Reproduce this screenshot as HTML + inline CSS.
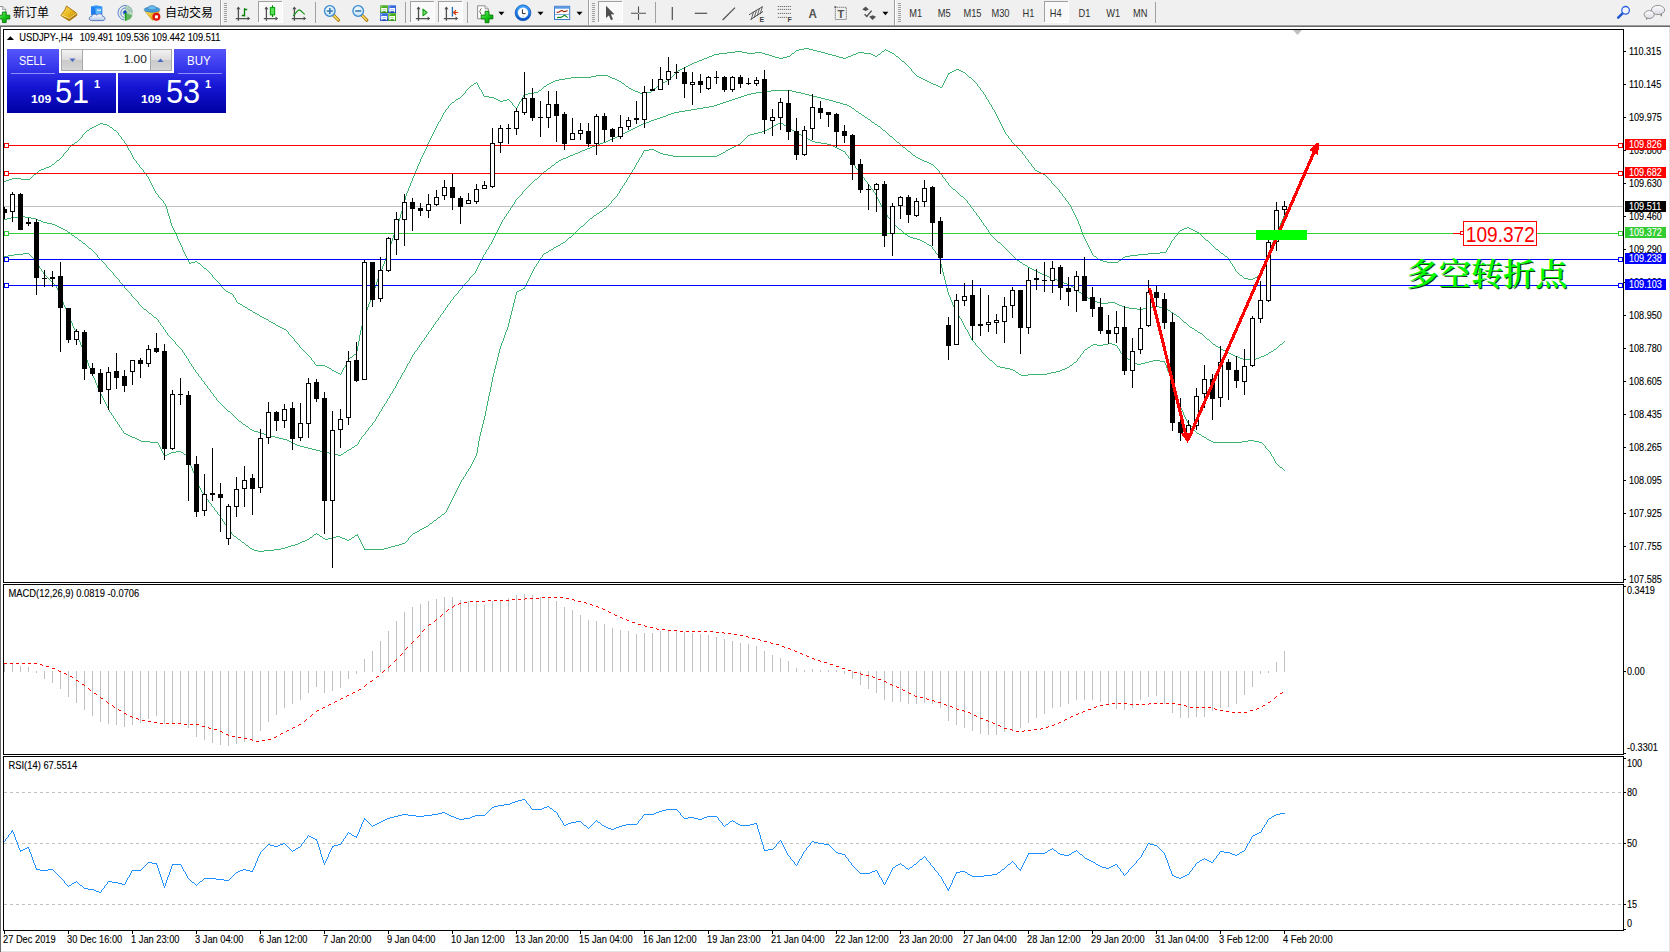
<!DOCTYPE html>
<html><head><meta charset="utf-8"><title>USDJPY H4</title>
<style>
html,body{margin:0;padding:0;background:#fff;overflow:hidden}
body{width:1670px;height:952px;position:relative;font-family:"Liberation Sans", "Noto Sans CJK SC", sans-serif;font-size:9.3px;color:#000}
.abs{position:absolute}
#tb{left:0;top:0;width:1670px;height:25px;background:#f0f0f0}
#l1{left:0;top:25px;width:1670px;height:1px;background:#a0a0a0}
#l2{left:0;top:26px;width:1670px;height:1px;background:#696969}
#l3{left:0;top:26px;width:1px;height:926px;background:#696969}
#rb{left:1669px;top:27px;width:1px;height:925px;background:#e3e3e3}
#bb{left:1px;top:951px;width:1669px;height:1px;background:#e3e3e3}
svg{position:absolute;left:0;top:0}

#pn{position:absolute;left:0;top:0}
.pb{position:absolute;background:linear-gradient(#5656fb 0%,#3c3cef 25%,#1414d2 60%,#0000a4 100%);background-size:100% 64px;background-repeat:no-repeat}
.pt{position:absolute;color:#fff;white-space:nowrap;line-height:1;transform-origin:0 0}
#lot{position:absolute;left:61px;top:49px;width:109px;height:20px;border:1px solid #a8a8a8;background:#fff}
.sp{position:absolute;top:0;width:20px;height:20px;background:linear-gradient(#f2f2f2,#dcdcdc 50%,#cacaca 51%,#d6d6d6)}

</style></head><body>
<div class="abs" id="tb"></div><div class="abs" id="l1"></div><div class="abs" id="l2"></div><div class="abs" id="l3"></div><div class="abs" id="rb"></div><div class="abs" id="bb"></div>
<svg width="1670" height="952" viewBox="0 0 1670 952">
<defs><clipPath id="cm"><rect x="4" y="30" width="1619" height="552"/></clipPath><clipPath id="c2"><rect x="4" y="585" width="1619" height="169"/></clipPath><clipPath id="c3"><rect x="4" y="757" width="1619" height="173"/></clipPath></defs>
<g clip-path="url(#cm)">
<rect x="4" y="206" width="1619" height="1" fill="#c0c0c0"/>
<path d="M63 154h1v2h-1zM68 148h1v2h-1zM82 135h1v2h-1zM118 133h1v2h-1zM121 137h1v2h-1zM124 141h1v2h-1zM126 144h1v2h-1zM127 146h1v2h-1zM128 148h1v2h-1zM130 151h1v2h-1zM131 153h1v2h-1zM132 155h1v2h-1zM133 157h1v2h-1zM136 161h1v2h-1zM139 165h1v2h-1zM143 170h1v2h-1zM146 174h1v2h-1zM148 177h1v2h-1zM149 179h1v2h-1zM150 181h1v2h-1zM151 183h1v2h-1zM152 185h1v2h-1zM153 187h1v2h-1zM154 189h1v2h-1zM155 191h1v2h-1zM158 195h1v2h-1zM163 201h1v2h-1zM165 204h1v2h-1zM166 206h1v3h-1zM167 209h1v4h-1zM168 213h1v3h-1zM169 216h1v3h-1zM170 219h1v4h-1zM171 223h1v3h-1zM172 226h1v2h-1zM173 228h1v2h-1zM174 230h1v2h-1zM175 232h1v2h-1zM176 234h1v2h-1zM177 236h1v3h-1zM178 239h1v2h-1zM179 241h1v2h-1zM180 243h1v2h-1zM181 245h1v2h-1zM182 247h1v3h-1zM183 250h1v2h-1zM184 252h1v2h-1zM185 254h1v2h-1zM186 256h1v2h-1zM187 258h1v2h-1zM188 260h1v2h-1zM189 262h1v2h-1zM212 275h1v2h-1zM221 285h1v2h-1zM233 295h1v2h-1zM235 298h1v2h-1zM236 300h1v2h-1zM288 332h1v2h-1zM294 339h1v2h-1zM299 345h1v2h-1zM311 358h1v2h-1zM314 362h1v2h-1zM341 372h1v2h-1zM342 370h1v2h-1zM343 368h1v2h-1zM345 365h1v2h-1zM346 363h1v2h-1zM347 361h1v2h-1zM348 359h1v2h-1zM356 351h1v3h-1zM357 346h1v5h-1zM358 341h1v5h-1zM359 335h1v6h-1zM360 330h1v5h-1zM361 326h1v4h-1zM362 323h1v3h-1zM363 320h1v3h-1zM364 316h1v4h-1zM365 313h1v3h-1zM366 310h1v3h-1zM367 307h1v3h-1zM368 304h1v3h-1zM369 302h1v2h-1zM370 299h1v3h-1zM371 296h1v3h-1zM372 293h1v3h-1zM373 290h1v3h-1zM374 288h1v2h-1zM375 285h1v3h-1zM376 282h1v3h-1zM377 279h1v3h-1zM378 277h1v2h-1zM379 274h1v3h-1zM380 272h1v2h-1zM381 269h1v3h-1zM382 266h1v3h-1zM383 264h1v2h-1zM384 261h1v3h-1zM385 258h1v3h-1zM386 255h1v3h-1zM387 253h1v2h-1zM388 250h1v3h-1zM389 247h1v3h-1zM390 244h1v3h-1zM391 241h1v3h-1zM392 238h1v3h-1zM393 235h1v3h-1zM394 233h1v2h-1zM395 230h1v3h-1zM396 227h1v3h-1zM397 224h1v3h-1zM398 221h1v3h-1zM399 218h1v3h-1zM400 214h1v4h-1zM401 211h1v3h-1zM402 207h1v4h-1zM403 203h1v4h-1zM404 200h1v3h-1zM405 196h1v4h-1zM406 193h1v3h-1zM407 191h1v2h-1zM408 188h1v3h-1zM409 186h1v2h-1zM410 183h1v3h-1zM411 181h1v2h-1zM412 178h1v3h-1zM413 176h1v2h-1zM414 173h1v3h-1zM415 171h1v2h-1zM416 169h1v2h-1zM417 166h1v3h-1zM418 164h1v2h-1zM419 162h1v2h-1zM420 159h1v3h-1zM421 157h1v2h-1zM422 155h1v2h-1zM423 153h1v2h-1zM424 151h1v2h-1zM425 149h1v2h-1zM426 147h1v2h-1zM427 144h1v3h-1zM428 142h1v2h-1zM429 140h1v2h-1zM430 138h1v2h-1zM431 136h1v2h-1zM432 134h1v2h-1zM433 132h1v2h-1zM434 130h1v2h-1zM435 128h1v2h-1zM436 126h1v2h-1zM437 124h1v2h-1zM438 122h1v2h-1zM440 119h1v2h-1zM441 117h1v2h-1zM442 115h1v2h-1zM443 113h1v2h-1zM445 110h1v2h-1zM448 106h1v2h-1zM465 91h1v2h-1zM477 83h1v2h-1zM478 85h1v2h-1zM479 87h1v2h-1zM481 90h1v2h-1zM482 92h1v2h-1zM483 94h1v2h-1zM512 103h1v2h-1zM517 106h1v2h-1zM518 104h1v2h-1zM519 102h1v2h-1zM521 99h1v2h-1zM522 97h1v2h-1zM523 95h1v2h-1zM911 69h1v2h-1zM942 85h1v2h-1zM943 83h1v2h-1zM944 81h1v2h-1zM945 79h1v2h-1zM946 77h1v2h-1zM947 75h1v2h-1zM948 73h1v2h-1zM977 84h1v2h-1zM980 88h1v2h-1zM983 92h1v2h-1zM985 95h1v2h-1zM986 97h1v2h-1zM988 100h1v2h-1zM989 102h1v2h-1zM991 105h1v2h-1zM992 107h1v2h-1zM994 110h1v2h-1zM995 112h1v2h-1zM996 114h1v2h-1zM997 116h1v2h-1zM998 118h1v2h-1zM999 120h1v2h-1zM1000 122h1v2h-1zM1001 124h1v2h-1zM1002 126h1v2h-1zM1003 128h1v2h-1zM1004 130h1v2h-1zM1005 132h1v2h-1zM1008 136h1v2h-1zM1011 140h1v2h-1zM1022 152h1v2h-1zM1025 156h1v2h-1zM1028 160h1v2h-1zM1031 164h1v2h-1zM1034 168h1v2h-1zM1051 181h1v2h-1zM1059 190h1v2h-1zM1062 194h1v2h-1zM1065 198h1v2h-1zM1068 202h1v2h-1zM1070 205h1v2h-1zM1071 207h1v2h-1zM1072 209h1v2h-1zM1073 211h1v2h-1zM1074 213h1v2h-1zM1075 215h1v2h-1zM1076 217h1v2h-1zM1077 219h1v2h-1zM1078 221h1v3h-1zM1079 224h1v2h-1zM1080 226h1v3h-1zM1081 229h1v3h-1zM1082 232h1v3h-1zM1083 235h1v2h-1zM1084 237h1v2h-1zM1085 239h1v2h-1zM1086 241h1v2h-1zM1087 243h1v2h-1zM1088 245h1v2h-1zM1089 247h1v2h-1zM1090 249h1v2h-1zM1091 251h1v2h-1zM1092 253h1v2h-1zM1166 250h1v2h-1zM1167 248h1v2h-1zM1169 245h1v2h-1zM1170 243h1v2h-1zM1171 241h1v2h-1zM1174 237h1v2h-1zM1178 232h1v2h-1zM1229 259h1v2h-1zM1230 261h1v2h-1zM1232 264h1v2h-1zM1234 267h1v2h-1zM1235 269h1v2h-1zM1258 275h1v2h-1zM1259 273h1v2h-1zM1260 271h1v2h-1zM1261 268h1v3h-1zM1262 266h1v2h-1zM1263 264h1v2h-1zM1264 261h1v3h-1zM1265 259h1v2h-1zM1266 257h1v2h-1zM1267 254h1v3h-1zM1268 252h1v2h-1zM1269 249h1v3h-1zM1270 247h1v2h-1zM1271 245h1v2h-1zM1272 242h1v3h-1zM1273 240h1v2h-1zM1274 238h1v2h-1zM1275 235h1v3h-1zM1276 233h1v2h-1zM1277 231h1v2h-1zM1278 228h1v3h-1zM1279 226h1v2h-1zM1280 223h1v3h-1zM1281 221h1v2h-1zM1282 219h1v2h-1zM1283 216h1v3h-1zM1284 214h1v2h-1zM1285 212h1v2h-1zM804 48h5v1h-5zM799 49h5v1h-5zM809 49h4v1h-4zM885 49h1v1h-1zM796 50h3v1h-3zM813 50h4v1h-4zM884 50h1v1h-1zM886 50h2v1h-2zM735 51h7v1h-7zM795 51h1v1h-1zM817 51h4v1h-4zM882 51h2v1h-2zM888 51h2v1h-2zM727 52h8v1h-8zM742 52h5v1h-5zM755 52h7v1h-7zM794 52h1v1h-1zM821 52h4v1h-4zM858 52h6v1h-6zM881 52h1v1h-1zM890 52h2v1h-2zM719 53h8v1h-8zM747 53h8v1h-8zM762 53h3v1h-3zM792 53h2v1h-2zM825 53h3v1h-3zM856 53h2v1h-2zM864 53h7v1h-7zM880 53h1v1h-1zM892 53h2v1h-2zM714 54h5v1h-5zM765 54h4v1h-4zM791 54h1v1h-1zM828 54h4v1h-4zM853 54h3v1h-3zM871 54h2v1h-2zM878 54h2v1h-2zM894 54h1v1h-1zM712 55h2v1h-2zM769 55h3v1h-3zM790 55h1v1h-1zM832 55h4v1h-4zM851 55h2v1h-2zM873 55h2v1h-2zM877 55h1v1h-1zM895 55h1v1h-1zM709 56h3v1h-3zM772 56h3v1h-3zM787 56h3v1h-3zM836 56h3v1h-3zM848 56h3v1h-3zM875 56h2v1h-2zM896 56h2v1h-2zM707 57h2v1h-2zM775 57h4v1h-4zM783 57h4v1h-4zM839 57h4v1h-4zM846 57h2v1h-2zM898 57h1v1h-1zM704 58h3v1h-3zM779 58h4v1h-4zM843 58h3v1h-3zM899 58h1v1h-1zM702 59h2v1h-2zM900 59h1v1h-1zM699 60h3v1h-3zM901 60h1v1h-1zM697 61h2v1h-2zM902 61h2v1h-2zM694 62h3v1h-3zM904 62h1v1h-1zM692 63h2v1h-2zM905 63h1v1h-1zM690 64h2v1h-2zM906 64h1v1h-1zM688 65h2v1h-2zM907 65h1v1h-1zM686 66h2v1h-2zM908 66h1v1h-1zM684 67h2v1h-2zM909 67h1v1h-1zM682 68h2v1h-2zM910 68h1v1h-1zM680 69h2v1h-2zM956 69h3v1h-3zM678 70h2v1h-2zM954 70h2v1h-2zM959 70h2v1h-2zM677 71h1v1h-1zM912 71h1v1h-1zM952 71h2v1h-2zM961 71h2v1h-2zM676 72h1v1h-1zM913 72h1v1h-1zM950 72h2v1h-2zM963 72h2v1h-2zM675 73h1v1h-1zM914 73h1v1h-1zM949 73h1v1h-1zM965 73h1v1h-1zM674 74h1v1h-1zM915 74h1v1h-1zM966 74h1v1h-1zM596 75h12v1h-12zM673 75h1v1h-1zM916 75h1v1h-1zM967 75h1v1h-1zM591 76h5v1h-5zM608 76h2v1h-2zM672 76h1v1h-1zM917 76h2v1h-2zM968 76h1v1h-1zM571 77h20v1h-20zM610 77h2v1h-2zM671 77h1v1h-1zM919 77h2v1h-2zM969 77h2v1h-2zM565 78h6v1h-6zM612 78h3v1h-3zM670 78h1v1h-1zM921 78h2v1h-2zM971 78h1v1h-1zM559 79h6v1h-6zM615 79h2v1h-2zM669 79h1v1h-1zM923 79h2v1h-2zM972 79h1v1h-1zM555 80h4v1h-4zM617 80h2v1h-2zM667 80h2v1h-2zM925 80h2v1h-2zM973 80h1v1h-1zM553 81h2v1h-2zM619 81h2v1h-2zM665 81h2v1h-2zM927 81h2v1h-2zM974 81h1v1h-1zM476 82h1v1h-1zM551 82h2v1h-2zM621 82h1v1h-1zM663 82h2v1h-2zM929 82h2v1h-2zM975 82h1v1h-1zM474 83h2v1h-2zM549 83h2v1h-2zM622 83h2v1h-2zM661 83h2v1h-2zM931 83h2v1h-2zM976 83h1v1h-1zM473 84h1v1h-1zM547 84h2v1h-2zM624 84h1v1h-1zM659 84h2v1h-2zM933 84h3v1h-3zM471 85h2v1h-2zM546 85h1v1h-1zM625 85h1v1h-1zM658 85h1v1h-1zM936 85h2v1h-2zM470 86h1v1h-1zM544 86h2v1h-2zM626 86h2v1h-2zM657 86h1v1h-1zM938 86h2v1h-2zM978 86h1v1h-1zM469 87h1v1h-1zM543 87h1v1h-1zM628 87h1v1h-1zM656 87h1v1h-1zM940 87h2v1h-2zM979 87h1v1h-1zM468 88h1v1h-1zM542 88h1v1h-1zM629 88h2v1h-2zM654 88h2v1h-2zM467 89h1v1h-1zM480 89h1v1h-1zM541 89h1v1h-1zM631 89h2v1h-2zM653 89h1v1h-1zM466 90h1v1h-1zM539 90h2v1h-2zM633 90h2v1h-2zM652 90h1v1h-1zM981 90h1v1h-1zM538 91h1v1h-1zM635 91h3v1h-3zM651 91h1v1h-1zM982 91h1v1h-1zM534 92h4v1h-4zM638 92h2v1h-2zM646 92h5v1h-5zM464 93h1v1h-1zM528 93h6v1h-6zM640 93h6v1h-6zM463 94h1v1h-1zM524 94h4v1h-4zM984 94h1v1h-1zM462 95h1v1h-1zM461 96h1v1h-1zM484 96h5v1h-5zM460 97h1v1h-1zM489 97h5v1h-5zM458 98h2v1h-2zM494 98h2v1h-2zM456 99h2v1h-2zM496 99h2v1h-2zM507 99h2v1h-2zM987 99h1v1h-1zM455 100h1v1h-1zM498 100h2v1h-2zM503 100h4v1h-4zM509 100h1v1h-1zM454 101h1v1h-1zM500 101h3v1h-3zM510 101h1v1h-1zM520 101h1v1h-1zM452 102h2v1h-2zM511 102h1v1h-1zM451 103h1v1h-1zM450 104h1v1h-1zM990 104h1v1h-1zM449 105h1v1h-1zM513 105h1v1h-1zM514 106h1v1h-1zM515 107h1v1h-1zM447 108h1v1h-1zM516 108h1v1h-1zM446 109h1v1h-1zM993 109h1v1h-1zM444 112h1v1h-1zM439 121h1v1h-1zM100 123h3v1h-3zM98 124h2v1h-2zM103 124h4v1h-4zM96 125h2v1h-2zM107 125h2v1h-2zM94 126h2v1h-2zM109 126h1v1h-1zM92 127h2v1h-2zM110 127h2v1h-2zM90 128h2v1h-2zM112 128h1v1h-1zM89 129h1v1h-1zM113 129h1v1h-1zM87 130h2v1h-2zM114 130h2v1h-2zM86 131h1v1h-1zM116 131h1v1h-1zM85 132h1v1h-1zM117 132h1v1h-1zM84 133h1v1h-1zM83 134h1v1h-1zM1006 134h1v1h-1zM119 135h1v1h-1zM1007 135h1v1h-1zM120 136h1v1h-1zM81 137h1v1h-1zM80 138h1v1h-1zM1009 138h1v1h-1zM79 139h1v1h-1zM122 139h1v1h-1zM1010 139h1v1h-1zM78 140h1v1h-1zM123 140h1v1h-1zM77 141h1v1h-1zM75 142h2v1h-2zM1012 142h1v1h-1zM74 143h1v1h-1zM125 143h1v1h-1zM1013 143h1v1h-1zM72 144h2v1h-2zM1014 144h1v1h-1zM71 145h1v1h-1zM1015 145h1v1h-1zM70 146h1v1h-1zM1016 146h1v1h-1zM69 147h1v1h-1zM1017 147h1v1h-1zM1018 148h1v1h-1zM1019 149h1v1h-1zM67 150h1v1h-1zM129 150h1v1h-1zM1020 150h1v1h-1zM66 151h1v1h-1zM1021 151h1v1h-1zM65 152h1v1h-1zM64 153h1v1h-1zM1023 154h1v1h-1zM1024 155h1v1h-1zM62 156h1v1h-1zM61 157h1v1h-1zM60 158h1v1h-1zM1026 158h1v1h-1zM59 159h1v1h-1zM134 159h1v1h-1zM1027 159h1v1h-1zM57 160h2v1h-2zM135 160h1v1h-1zM56 161h1v1h-1zM55 162h1v1h-1zM1029 162h1v1h-1zM54 163h1v1h-1zM137 163h1v1h-1zM1030 163h1v1h-1zM52 164h2v1h-2zM138 164h1v1h-1zM51 165h1v1h-1zM49 166h2v1h-2zM1032 166h1v1h-1zM46 167h3v1h-3zM140 167h1v1h-1zM1033 167h1v1h-1zM44 168h2v1h-2zM141 168h1v1h-1zM41 169h3v1h-3zM142 169h1v1h-1zM39 170h2v1h-2zM1035 170h2v1h-2zM38 171h1v1h-1zM1037 171h2v1h-2zM37 172h1v1h-1zM144 172h1v1h-1zM1039 172h2v1h-2zM36 173h1v1h-1zM145 173h1v1h-1zM1041 173h2v1h-2zM34 174h2v1h-2zM1043 174h2v1h-2zM33 175h1v1h-1zM1045 175h1v1h-1zM32 176h1v1h-1zM147 176h1v1h-1zM1046 176h1v1h-1zM31 177h1v1h-1zM1047 177h1v1h-1zM12 178h9v1h-9zM30 178h1v1h-1zM1048 178h1v1h-1zM9 179h3v1h-3zM21 179h9v1h-9zM1049 179h1v1h-1zM6 180h3v1h-3zM1050 180h1v1h-1zM4 181h2v1h-2zM1052 183h1v1h-1zM1053 184h1v1h-1zM1054 185h1v1h-1zM1055 186h1v1h-1zM1056 187h1v1h-1zM1057 188h1v1h-1zM1058 189h1v1h-1zM1060 192h1v1h-1zM156 193h1v1h-1zM1061 193h1v1h-1zM157 194h1v1h-1zM1063 196h1v1h-1zM159 197h1v1h-1zM1064 197h1v1h-1zM160 198h1v1h-1zM161 199h1v1h-1zM162 200h1v1h-1zM1066 200h1v1h-1zM1067 201h1v1h-1zM164 203h1v1h-1zM1069 204h1v1h-1zM1187 227h2v1h-2zM1184 228h3v1h-3zM1189 228h2v1h-2zM1182 229h2v1h-2zM1191 229h2v1h-2zM1180 230h2v1h-2zM1193 230h2v1h-2zM1179 231h1v1h-1zM1195 231h2v1h-2zM1197 232h2v1h-2zM1199 233h1v1h-1zM1177 234h1v1h-1zM1200 234h1v1h-1zM1176 235h1v1h-1zM1201 235h1v1h-1zM1175 236h1v1h-1zM1202 236h1v1h-1zM1203 237h1v1h-1zM1204 238h1v1h-1zM1173 239h1v1h-1zM1205 239h1v1h-1zM1172 240h1v1h-1zM1206 240h2v1h-2zM1208 241h1v1h-1zM1209 242h1v1h-1zM1210 243h1v1h-1zM1211 244h1v1h-1zM1212 245h1v1h-1zM1213 246h1v1h-1zM1168 247h1v1h-1zM1214 247h1v1h-1zM1215 248h1v1h-1zM1216 249h2v1h-2zM1218 250h1v1h-1zM1219 251h1v1h-1zM1160 252h6v1h-6zM1220 252h1v1h-1zM1148 253h12v1h-12zM1221 253h2v1h-2zM1138 254h10v1h-10zM1223 254h1v1h-1zM1093 255h1v1h-1zM1130 255h8v1h-8zM1224 255h1v1h-1zM1094 256h2v1h-2zM1125 256h5v1h-5zM1225 256h2v1h-2zM1096 257h1v1h-1zM1123 257h2v1h-2zM1227 257h1v1h-1zM1097 258h1v1h-1zM1122 258h1v1h-1zM1228 258h1v1h-1zM1098 259h2v1h-2zM1121 259h1v1h-1zM1100 260h3v1h-3zM1119 260h2v1h-2zM195 261h2v1h-2zM1103 261h4v1h-4zM1118 261h1v1h-1zM191 262h4v1h-4zM197 262h1v1h-1zM1107 262h11v1h-11zM190 263h1v1h-1zM198 263h2v1h-2zM1231 263h1v1h-1zM200 264h1v1h-1zM201 265h1v1h-1zM202 266h1v1h-1zM1233 266h1v1h-1zM203 267h1v1h-1zM204 268h2v1h-2zM206 269h1v1h-1zM207 270h1v1h-1zM208 271h1v1h-1zM1236 271h1v1h-1zM209 272h1v1h-1zM1237 272h1v1h-1zM210 273h1v1h-1zM1238 273h1v1h-1zM211 274h1v1h-1zM1239 274h1v1h-1zM1240 275h2v1h-2zM1242 276h1v1h-1zM1257 276h1v1h-1zM213 277h1v1h-1zM1243 277h1v1h-1zM1255 277h2v1h-2zM214 278h1v1h-1zM1244 278h4v1h-4zM1253 278h2v1h-2zM215 279h1v1h-1zM1248 279h5v1h-5zM216 280h1v1h-1zM217 281h1v1h-1zM218 282h1v1h-1zM219 283h1v1h-1zM220 284h1v1h-1zM222 287h1v1h-1zM223 288h1v1h-1zM224 289h1v1h-1zM225 290h1v1h-1zM226 291h2v1h-2zM228 292h2v1h-2zM230 293h2v1h-2zM232 294h1v1h-1zM234 297h1v1h-1zM237 302h1v1h-1zM238 303h2v1h-2zM240 304h2v1h-2zM242 305h1v1h-1zM243 306h2v1h-2zM245 307h2v1h-2zM247 308h1v1h-1zM248 309h2v1h-2zM250 310h2v1h-2zM252 311h1v1h-1zM253 312h2v1h-2zM255 313h2v1h-2zM257 314h2v1h-2zM259 315h1v1h-1zM260 316h2v1h-2zM262 317h2v1h-2zM264 318h2v1h-2zM266 319h2v1h-2zM268 320h1v1h-1zM269 321h2v1h-2zM271 322h2v1h-2zM273 323h2v1h-2zM275 324h1v1h-1zM276 325h2v1h-2zM278 326h2v1h-2zM280 327h2v1h-2zM282 328h2v1h-2zM284 329h2v1h-2zM286 330h1v1h-1zM287 331h1v1h-1zM289 334h1v1h-1zM290 335h1v1h-1zM291 336h1v1h-1zM292 337h1v1h-1zM293 338h1v1h-1zM295 341h1v1h-1zM296 342h1v1h-1zM297 343h1v1h-1zM298 344h1v1h-1zM300 347h1v1h-1zM301 348h1v1h-1zM302 349h1v1h-1zM303 350h1v1h-1zM304 351h1v1h-1zM305 352h1v1h-1zM306 353h1v1h-1zM307 354h1v1h-1zM354 354h2v1h-2zM308 355h1v1h-1zM353 355h1v1h-1zM309 356h1v1h-1zM352 356h1v1h-1zM310 357h1v1h-1zM350 357h2v1h-2zM349 358h1v1h-1zM312 360h1v1h-1zM313 361h1v1h-1zM315 364h1v1h-1zM316 365h9v1h-9zM325 366h2v1h-2zM327 367h2v1h-2zM344 367h1v1h-1zM329 368h2v1h-2zM331 369h1v1h-1zM332 370h2v1h-2zM334 371h2v1h-2zM336 372h2v1h-2zM338 373h2v1h-2zM340 374h1v1h-1z" fill="#3cb371" shape-rendering="crispEdges" />
<path d="M97 255h1v2h-1zM106 265h1v2h-1zM113 273h1v2h-1zM119 280h1v2h-1zM124 286h1v2h-1zM131 294h1v2h-1zM138 302h1v2h-1zM158 320h1v2h-1zM160 323h1v2h-1zM163 327h1v2h-1zM165 330h1v2h-1zM167 333h1v2h-1zM175 342h1v2h-1zM182 350h1v2h-1zM184 353h1v2h-1zM186 356h1v2h-1zM188 359h1v2h-1zM189 361h1v2h-1zM191 364h1v2h-1zM193 367h1v2h-1zM195 370h1v2h-1zM198 374h1v2h-1zM201 378h1v2h-1zM204 382h1v2h-1zM207 386h1v2h-1zM210 390h1v2h-1zM213 394h1v2h-1zM216 398h1v2h-1zM358 442h1v2h-1zM359 440h1v2h-1zM361 437h1v2h-1zM365 432h1v2h-1zM368 428h1v2h-1zM372 423h1v2h-1zM375 419h1v2h-1zM376 417h1v2h-1zM378 414h1v2h-1zM379 412h1v2h-1zM381 409h1v2h-1zM382 407h1v2h-1zM384 404h1v2h-1zM386 401h1v2h-1zM387 399h1v2h-1zM389 396h1v2h-1zM390 394h1v2h-1zM392 391h1v2h-1zM393 389h1v2h-1zM395 386h1v2h-1zM396 384h1v2h-1zM397 382h1v2h-1zM398 380h1v2h-1zM400 377h1v2h-1zM401 375h1v2h-1zM402 373h1v2h-1zM404 370h1v2h-1zM405 368h1v2h-1zM406 366h1v2h-1zM407 364h1v2h-1zM409 361h1v2h-1zM410 359h1v2h-1zM411 357h1v2h-1zM412 355h1v2h-1zM414 352h1v2h-1zM417 348h1v2h-1zM419 345h1v2h-1zM421 342h1v2h-1zM424 338h1v2h-1zM426 335h1v2h-1zM428 332h1v2h-1zM431 328h1v2h-1zM433 325h1v2h-1zM435 322h1v2h-1zM438 318h1v2h-1zM440 315h1v2h-1zM443 311h1v2h-1zM445 308h1v2h-1zM447 305h1v2h-1zM450 301h1v2h-1zM453 297h1v2h-1zM458 291h1v2h-1zM462 286h1v2h-1zM469 278h1v2h-1zM475 271h1v2h-1zM476 269h1v2h-1zM477 267h1v2h-1zM478 265h1v2h-1zM479 263h1v2h-1zM480 261h1v2h-1zM481 259h1v2h-1zM482 257h1v2h-1zM483 255h1v2h-1zM485 252h1v2h-1zM486 250h1v2h-1zM488 247h1v2h-1zM489 245h1v2h-1zM491 242h1v2h-1zM492 240h1v2h-1zM493 238h1v2h-1zM494 236h1v2h-1zM495 234h1v2h-1zM496 232h1v2h-1zM497 230h1v2h-1zM498 228h1v2h-1zM499 226h1v2h-1zM500 224h1v2h-1zM501 222h1v2h-1zM502 220h1v2h-1zM504 217h1v2h-1zM506 214h1v2h-1zM508 211h1v2h-1zM510 208h1v2h-1zM512 205h1v2h-1zM514 202h1v2h-1zM515 200h1v2h-1zM522 192h1v2h-1zM939 171h1v2h-1zM942 175h1v2h-1zM945 179h1v2h-1zM948 183h1v2h-1zM967 201h1v2h-1zM970 205h1v2h-1zM973 209h1v2h-1zM976 213h1v2h-1zM979 217h1v2h-1zM981 220h1v2h-1zM983 223h1v2h-1zM986 227h1v2h-1zM988 230h1v2h-1zM990 233h1v2h-1zM771 90h21v1h-21zM763 91h8v1h-8zM792 91h4v1h-4zM756 92h7v1h-7zM796 92h5v1h-5zM751 93h5v1h-5zM801 93h4v1h-4zM747 94h4v1h-4zM805 94h4v1h-4zM744 95h3v1h-3zM809 95h4v1h-4zM741 96h3v1h-3zM813 96h4v1h-4zM738 97h3v1h-3zM817 97h4v1h-4zM735 98h3v1h-3zM821 98h4v1h-4zM732 99h3v1h-3zM825 99h4v1h-4zM729 100h3v1h-3zM829 100h4v1h-4zM726 101h3v1h-3zM833 101h3v1h-3zM723 102h3v1h-3zM836 102h4v1h-4zM720 103h3v1h-3zM840 103h3v1h-3zM717 104h3v1h-3zM843 104h4v1h-4zM714 105h3v1h-3zM847 105h2v1h-2zM709 106h5v1h-5zM849 106h2v1h-2zM703 107h6v1h-6zM851 107h1v1h-1zM697 108h6v1h-6zM852 108h2v1h-2zM691 109h6v1h-6zM854 109h1v1h-1zM685 110h6v1h-6zM855 110h1v1h-1zM679 111h6v1h-6zM856 111h2v1h-2zM674 112h5v1h-5zM858 112h1v1h-1zM671 113h3v1h-3zM859 113h2v1h-2zM668 114h3v1h-3zM861 114h1v1h-1zM666 115h2v1h-2zM862 115h2v1h-2zM663 116h3v1h-3zM864 116h1v1h-1zM660 117h3v1h-3zM865 117h2v1h-2zM657 118h3v1h-3zM867 118h1v1h-1zM654 119h3v1h-3zM868 119h2v1h-2zM651 120h3v1h-3zM870 120h1v1h-1zM649 121h2v1h-2zM871 121h1v1h-1zM646 122h3v1h-3zM872 122h2v1h-2zM643 123h3v1h-3zM874 123h1v1h-1zM641 124h2v1h-2zM875 124h2v1h-2zM639 125h2v1h-2zM877 125h1v1h-1zM637 126h2v1h-2zM878 126h2v1h-2zM635 127h2v1h-2zM880 127h1v1h-1zM633 128h2v1h-2zM881 128h1v1h-1zM631 129h2v1h-2zM882 129h1v1h-1zM629 130h2v1h-2zM883 130h2v1h-2zM627 131h2v1h-2zM885 131h1v1h-1zM625 132h2v1h-2zM886 132h1v1h-1zM623 133h2v1h-2zM887 133h1v1h-1zM621 134h2v1h-2zM888 134h1v1h-1zM619 135h2v1h-2zM889 135h1v1h-1zM617 136h2v1h-2zM890 136h2v1h-2zM615 137h2v1h-2zM892 137h1v1h-1zM612 138h3v1h-3zM893 138h1v1h-1zM610 139h2v1h-2zM894 139h1v1h-1zM608 140h2v1h-2zM895 140h1v1h-1zM606 141h2v1h-2zM896 141h1v1h-1zM603 142h3v1h-3zM897 142h2v1h-2zM600 143h3v1h-3zM899 143h1v1h-1zM598 144h2v1h-2zM900 144h1v1h-1zM595 145h3v1h-3zM901 145h1v1h-1zM592 146h3v1h-3zM902 146h1v1h-1zM590 147h2v1h-2zM903 147h2v1h-2zM587 148h3v1h-3zM905 148h1v1h-1zM585 149h2v1h-2zM906 149h1v1h-1zM582 150h3v1h-3zM907 150h1v1h-1zM580 151h2v1h-2zM908 151h2v1h-2zM578 152h2v1h-2zM910 152h1v1h-1zM575 153h3v1h-3zM911 153h1v1h-1zM573 154h2v1h-2zM912 154h1v1h-1zM570 155h3v1h-3zM913 155h2v1h-2zM568 156h2v1h-2zM915 156h1v1h-1zM566 157h2v1h-2zM916 157h2v1h-2zM563 158h3v1h-3zM918 158h2v1h-2zM561 159h2v1h-2zM920 159h2v1h-2zM559 160h2v1h-2zM922 160h2v1h-2zM558 161h1v1h-1zM924 161h3v1h-3zM556 162h2v1h-2zM927 162h2v1h-2zM555 163h1v1h-1zM929 163h2v1h-2zM554 164h1v1h-1zM931 164h2v1h-2zM552 165h2v1h-2zM933 165h1v1h-1zM551 166h1v1h-1zM934 166h1v1h-1zM550 167h1v1h-1zM935 167h1v1h-1zM548 168h2v1h-2zM936 168h1v1h-1zM547 169h1v1h-1zM937 169h1v1h-1zM546 170h1v1h-1zM938 170h1v1h-1zM544 171h2v1h-2zM543 172h1v1h-1zM542 173h1v1h-1zM940 173h1v1h-1zM541 174h1v1h-1zM941 174h1v1h-1zM540 175h1v1h-1zM539 176h1v1h-1zM538 177h1v1h-1zM943 177h1v1h-1zM537 178h1v1h-1zM944 178h1v1h-1zM535 179h2v1h-2zM534 180h1v1h-1zM533 181h1v1h-1zM946 181h1v1h-1zM532 182h1v1h-1zM947 182h1v1h-1zM531 183h1v1h-1zM530 184h1v1h-1zM529 185h1v1h-1zM949 185h1v1h-1zM528 186h1v1h-1zM950 186h1v1h-1zM527 187h1v1h-1zM951 187h1v1h-1zM526 188h1v1h-1zM952 188h1v1h-1zM525 189h1v1h-1zM953 189h2v1h-2zM524 190h1v1h-1zM955 190h1v1h-1zM523 191h1v1h-1zM956 191h1v1h-1zM957 192h1v1h-1zM958 193h1v1h-1zM521 194h1v1h-1zM959 194h1v1h-1zM520 195h1v1h-1zM960 195h1v1h-1zM519 196h1v1h-1zM961 196h2v1h-2zM518 197h1v1h-1zM963 197h1v1h-1zM517 198h1v1h-1zM964 198h1v1h-1zM516 199h1v1h-1zM965 199h1v1h-1zM966 200h1v1h-1zM968 203h1v1h-1zM513 204h1v1h-1zM969 204h1v1h-1zM511 207h1v1h-1zM971 207h1v1h-1zM972 208h1v1h-1zM509 210h1v1h-1zM974 211h1v1h-1zM975 212h1v1h-1zM507 213h1v1h-1zM977 215h1v1h-1zM18 216h7v1h-7zM505 216h1v1h-1zM978 216h1v1h-1zM11 217h7v1h-7zM25 217h6v1h-6zM7 218h4v1h-4zM31 218h5v1h-5zM4 219h3v1h-3zM36 219h2v1h-2zM503 219h1v1h-1zM980 219h1v1h-1zM38 220h3v1h-3zM41 221h2v1h-2zM43 222h4v1h-4zM982 222h1v1h-1zM47 223h5v1h-5zM52 224h3v1h-3zM55 225h2v1h-2zM984 225h1v1h-1zM57 226h2v1h-2zM985 226h1v1h-1zM59 227h2v1h-2zM61 228h2v1h-2zM63 229h2v1h-2zM987 229h1v1h-1zM65 230h2v1h-2zM67 231h1v1h-1zM68 232h2v1h-2zM989 232h1v1h-1zM70 233h1v1h-1zM71 234h1v1h-1zM72 235h2v1h-2zM991 235h1v1h-1zM74 236h1v1h-1zM992 236h1v1h-1zM75 237h2v1h-2zM993 237h1v1h-1zM77 238h1v1h-1zM994 238h1v1h-1zM78 239h1v1h-1zM995 239h1v1h-1zM79 240h2v1h-2zM996 240h1v1h-1zM81 241h1v1h-1zM997 241h1v1h-1zM82 242h1v1h-1zM998 242h2v1h-2zM83 243h2v1h-2zM1000 243h1v1h-1zM85 244h1v1h-1zM490 244h1v1h-1zM1001 244h1v1h-1zM86 245h1v1h-1zM1002 245h1v1h-1zM87 246h1v1h-1zM1003 246h1v1h-1zM88 247h1v1h-1zM1004 247h1v1h-1zM89 248h2v1h-2zM1005 248h1v1h-1zM91 249h1v1h-1zM487 249h1v1h-1zM1006 249h1v1h-1zM92 250h1v1h-1zM1007 250h1v1h-1zM93 251h1v1h-1zM1008 251h1v1h-1zM94 252h1v1h-1zM1009 252h1v1h-1zM95 253h1v1h-1zM1010 253h1v1h-1zM96 254h1v1h-1zM484 254h1v1h-1zM1011 254h1v1h-1zM1012 255h1v1h-1zM1013 256h1v1h-1zM98 257h1v1h-1zM1014 257h1v1h-1zM99 258h1v1h-1zM1015 258h1v1h-1zM100 259h1v1h-1zM1016 259h1v1h-1zM101 260h1v1h-1zM1017 260h2v1h-2zM102 261h1v1h-1zM1019 261h1v1h-1zM103 262h1v1h-1zM1020 262h2v1h-2zM104 263h1v1h-1zM1022 263h1v1h-1zM105 264h1v1h-1zM1023 264h2v1h-2zM1025 265h2v1h-2zM1027 266h1v1h-1zM107 267h1v1h-1zM1028 267h2v1h-2zM108 268h1v1h-1zM1030 268h2v1h-2zM109 269h1v1h-1zM1032 269h2v1h-2zM110 270h1v1h-1zM1034 270h2v1h-2zM111 271h1v1h-1zM1036 271h2v1h-2zM112 272h1v1h-1zM1038 272h2v1h-2zM474 273h1v1h-1zM1040 273h2v1h-2zM473 274h1v1h-1zM1042 274h2v1h-2zM114 275h1v1h-1zM472 275h1v1h-1zM1044 275h3v1h-3zM115 276h1v1h-1zM471 276h1v1h-1zM1047 276h2v1h-2zM116 277h1v1h-1zM470 277h1v1h-1zM1049 277h3v1h-3zM117 278h1v1h-1zM1052 278h3v1h-3zM118 279h1v1h-1zM1055 279h2v1h-2zM468 280h1v1h-1zM1057 280h3v1h-3zM467 281h1v1h-1zM1060 281h2v1h-2zM120 282h1v1h-1zM466 282h1v1h-1zM1062 282h2v1h-2zM121 283h1v1h-1zM465 283h1v1h-1zM1064 283h3v1h-3zM122 284h1v1h-1zM464 284h1v1h-1zM1067 284h2v1h-2zM123 285h1v1h-1zM463 285h1v1h-1zM1069 285h2v1h-2zM1071 286h2v1h-2zM1073 287h1v1h-1zM125 288h1v1h-1zM461 288h1v1h-1zM1074 288h2v1h-2zM126 289h1v1h-1zM460 289h1v1h-1zM1076 289h1v1h-1zM127 290h1v1h-1zM459 290h1v1h-1zM1077 290h1v1h-1zM128 291h1v1h-1zM1078 291h1v1h-1zM129 292h1v1h-1zM1079 292h2v1h-2zM130 293h1v1h-1zM457 293h1v1h-1zM1081 293h1v1h-1zM456 294h1v1h-1zM1082 294h1v1h-1zM455 295h1v1h-1zM1083 295h2v1h-2zM132 296h1v1h-1zM454 296h1v1h-1zM1085 296h2v1h-2zM133 297h1v1h-1zM1087 297h1v1h-1zM134 298h1v1h-1zM1088 298h2v1h-2zM135 299h1v1h-1zM452 299h1v1h-1zM1090 299h2v1h-2zM136 300h1v1h-1zM451 300h1v1h-1zM1092 300h2v1h-2zM137 301h1v1h-1zM1094 301h3v1h-3zM1097 302h4v1h-4zM1108 302h7v1h-7zM449 303h1v1h-1zM1101 303h7v1h-7zM1115 303h2v1h-2zM139 304h1v1h-1zM448 304h1v1h-1zM1117 304h2v1h-2zM140 305h1v1h-1zM1119 305h3v1h-3zM141 306h1v1h-1zM1122 306h2v1h-2zM1155 306h4v1h-4zM142 307h1v1h-1zM446 307h1v1h-1zM1124 307h5v1h-5zM1149 307h6v1h-6zM1159 307h3v1h-3zM143 308h1v1h-1zM1129 308h8v1h-8zM1143 308h6v1h-6zM1162 308h4v1h-4zM144 309h2v1h-2zM1137 309h6v1h-6zM1166 309h2v1h-2zM146 310h1v1h-1zM444 310h1v1h-1zM1168 310h2v1h-2zM147 311h1v1h-1zM1170 311h1v1h-1zM148 312h1v1h-1zM1171 312h2v1h-2zM149 313h2v1h-2zM442 313h1v1h-1zM1173 313h1v1h-1zM151 314h1v1h-1zM441 314h1v1h-1zM1174 314h2v1h-2zM152 315h1v1h-1zM1176 315h1v1h-1zM153 316h1v1h-1zM1177 316h2v1h-2zM154 317h2v1h-2zM439 317h1v1h-1zM1179 317h1v1h-1zM156 318h1v1h-1zM1180 318h1v1h-1zM157 319h1v1h-1zM1181 319h1v1h-1zM437 320h1v1h-1zM1182 320h1v1h-1zM436 321h1v1h-1zM1183 321h1v1h-1zM159 322h1v1h-1zM1184 322h2v1h-2zM1186 323h1v1h-1zM434 324h1v1h-1zM1187 324h1v1h-1zM161 325h1v1h-1zM1188 325h1v1h-1zM162 326h1v1h-1zM1189 326h1v1h-1zM432 327h1v1h-1zM1190 327h2v1h-2zM1192 328h2v1h-2zM164 329h1v1h-1zM1194 329h1v1h-1zM430 330h1v1h-1zM1195 330h2v1h-2zM429 331h1v1h-1zM1197 331h1v1h-1zM166 332h1v1h-1zM1198 332h2v1h-2zM1200 333h2v1h-2zM427 334h1v1h-1zM1202 334h1v1h-1zM168 335h1v1h-1zM1203 335h1v1h-1zM169 336h1v1h-1zM1204 336h1v1h-1zM170 337h1v1h-1zM425 337h1v1h-1zM1205 337h1v1h-1zM171 338h1v1h-1zM1206 338h1v1h-1zM172 339h1v1h-1zM1207 339h2v1h-2zM173 340h1v1h-1zM423 340h1v1h-1zM1209 340h1v1h-1zM174 341h1v1h-1zM422 341h1v1h-1zM1210 341h1v1h-1zM1284 341h1v1h-1zM1211 342h1v1h-1zM1283 342h1v1h-1zM1212 343h1v1h-1zM1282 343h1v1h-1zM176 344h1v1h-1zM420 344h1v1h-1zM1213 344h2v1h-2zM1280 344h2v1h-2zM177 345h1v1h-1zM1215 345h1v1h-1zM1279 345h1v1h-1zM178 346h1v1h-1zM1216 346h2v1h-2zM1278 346h1v1h-1zM179 347h1v1h-1zM418 347h1v1h-1zM1218 347h2v1h-2zM1277 347h1v1h-1zM180 348h1v1h-1zM1220 348h1v1h-1zM1276 348h1v1h-1zM181 349h1v1h-1zM1221 349h2v1h-2zM1274 349h2v1h-2zM416 350h1v1h-1zM1223 350h2v1h-2zM1273 350h1v1h-1zM415 351h1v1h-1zM1225 351h2v1h-2zM1271 351h2v1h-2zM183 352h1v1h-1zM1227 352h2v1h-2zM1269 352h2v1h-2zM1229 353h2v1h-2zM1268 353h1v1h-1zM413 354h1v1h-1zM1231 354h2v1h-2zM1266 354h2v1h-2zM185 355h1v1h-1zM1233 355h2v1h-2zM1264 355h2v1h-2zM1235 356h3v1h-3zM1261 356h3v1h-3zM1238 357h2v1h-2zM1259 357h2v1h-2zM187 358h1v1h-1zM1240 358h3v1h-3zM1256 358h3v1h-3zM1243 359h13v1h-13zM190 363h1v1h-1zM408 363h1v1h-1zM192 366h1v1h-1zM194 369h1v1h-1zM196 372h1v1h-1zM403 372h1v1h-1zM197 373h1v1h-1zM199 376h1v1h-1zM200 377h1v1h-1zM399 379h1v1h-1zM202 380h1v1h-1zM203 381h1v1h-1zM205 384h1v1h-1zM206 385h1v1h-1zM208 388h1v1h-1zM394 388h1v1h-1zM209 389h1v1h-1zM211 392h1v1h-1zM212 393h1v1h-1zM391 393h1v1h-1zM214 396h1v1h-1zM215 397h1v1h-1zM388 398h1v1h-1zM217 400h1v1h-1zM218 401h1v1h-1zM219 402h1v1h-1zM220 403h1v1h-1zM385 403h1v1h-1zM221 404h1v1h-1zM222 405h1v1h-1zM223 406h1v1h-1zM383 406h1v1h-1zM224 407h1v1h-1zM225 408h1v1h-1zM226 409h1v1h-1zM227 410h1v1h-1zM228 411h2v1h-2zM380 411h1v1h-1zM230 412h1v1h-1zM231 413h1v1h-1zM232 414h1v1h-1zM233 415h1v1h-1zM234 416h1v1h-1zM377 416h1v1h-1zM235 417h1v1h-1zM236 418h1v1h-1zM237 419h1v1h-1zM238 420h1v1h-1zM239 421h2v1h-2zM374 421h1v1h-1zM241 422h1v1h-1zM373 422h1v1h-1zM242 423h1v1h-1zM243 424h2v1h-2zM245 425h1v1h-1zM371 425h1v1h-1zM246 426h2v1h-2zM370 426h1v1h-1zM248 427h1v1h-1zM369 427h1v1h-1zM249 428h1v1h-1zM250 429h2v1h-2zM252 430h2v1h-2zM367 430h1v1h-1zM254 431h4v1h-4zM366 431h1v1h-1zM258 432h3v1h-3zM261 433h3v1h-3zM264 434h4v1h-4zM364 434h1v1h-1zM268 435h3v1h-3zM363 435h1v1h-1zM271 436h4v1h-4zM362 436h1v1h-1zM275 437h4v1h-4zM279 438h4v1h-4zM283 439h4v1h-4zM360 439h1v1h-1zM287 440h2v1h-2zM289 441h2v1h-2zM291 442h2v1h-2zM293 443h2v1h-2zM295 444h2v1h-2zM357 444h1v1h-1zM297 445h3v1h-3zM355 445h2v1h-2zM300 446h4v1h-4zM354 446h1v1h-1zM304 447h4v1h-4zM352 447h2v1h-2zM308 448h4v1h-4zM351 448h1v1h-1zM312 449h4v1h-4zM349 449h2v1h-2zM316 450h4v1h-4zM347 450h2v1h-2zM320 451h4v1h-4zM346 451h1v1h-1zM324 452h5v1h-5zM344 452h2v1h-2zM329 453h4v1h-4zM343 453h1v1h-1zM333 454h5v1h-5zM341 454h2v1h-2zM338 455h3v1h-3z" fill="#3cb371" shape-rendering="crispEdges" />
<path d="M35 260h1v2h-1zM37 263h1v2h-1zM39 266h1v2h-1zM41 269h1v2h-1zM43 272h1v2h-1zM56 286h1v2h-1zM57 288h1v2h-1zM58 290h1v3h-1zM59 293h1v2h-1zM60 295h1v2h-1zM61 297h1v3h-1zM62 300h1v2h-1zM63 302h1v3h-1zM64 305h1v2h-1zM65 307h1v2h-1zM66 309h1v3h-1zM67 312h1v2h-1zM68 314h1v2h-1zM69 316h1v3h-1zM70 319h1v2h-1zM71 321h1v2h-1zM72 323h1v3h-1zM73 326h1v2h-1zM74 328h1v2h-1zM75 330h1v3h-1zM76 333h1v2h-1zM77 335h1v3h-1zM78 338h1v2h-1zM79 340h1v2h-1zM80 342h1v3h-1zM81 345h1v2h-1zM82 347h1v3h-1zM83 350h1v2h-1zM84 352h1v3h-1zM85 355h1v3h-1zM86 358h1v2h-1zM87 360h1v3h-1zM88 363h1v3h-1zM89 366h1v2h-1zM90 368h1v3h-1zM91 371h1v2h-1zM92 373h1v3h-1zM93 376h1v2h-1zM94 378h1v2h-1zM95 380h1v3h-1zM96 383h1v2h-1zM97 385h1v3h-1zM98 388h1v2h-1zM99 390h1v2h-1zM100 392h1v2h-1zM101 394h1v2h-1zM102 396h1v2h-1zM103 398h1v2h-1zM104 400h1v2h-1zM105 402h1v2h-1zM106 404h1v2h-1zM107 406h1v2h-1zM108 408h1v2h-1zM109 410h1v2h-1zM111 413h1v2h-1zM113 416h1v2h-1zM115 419h1v2h-1zM117 422h1v2h-1zM119 425h1v2h-1zM121 428h1v2h-1zM123 431h1v2h-1zM158 443h1v2h-1zM159 445h1v2h-1zM160 447h1v2h-1zM161 449h1v2h-1zM162 451h1v2h-1zM163 453h1v2h-1zM164 455h1v2h-1zM186 455h1v2h-1zM187 457h1v2h-1zM188 459h1v2h-1zM189 461h1v3h-1zM190 464h1v2h-1zM191 466h1v2h-1zM192 468h1v3h-1zM193 471h1v2h-1zM194 473h1v3h-1zM195 476h1v2h-1zM196 478h1v3h-1zM197 481h1v2h-1zM198 483h1v3h-1zM199 486h1v2h-1zM200 488h1v2h-1zM201 490h1v2h-1zM203 493h1v2h-1zM206 497h1v2h-1zM208 500h1v2h-1zM211 504h1v2h-1zM214 508h1v2h-1zM217 512h1v2h-1zM220 516h1v2h-1zM222 519h1v2h-1zM224 522h1v2h-1zM227 526h1v2h-1zM229 529h1v2h-1zM231 532h1v2h-1zM357 534h1v2h-1zM358 536h1v2h-1zM359 538h1v2h-1zM360 540h1v2h-1zM361 542h1v2h-1zM362 544h1v2h-1zM363 546h1v2h-1zM364 548h1v2h-1zM408 538h1v2h-1zM446 510h1v2h-1zM447 508h1v2h-1zM448 506h1v2h-1zM449 504h1v2h-1zM450 502h1v2h-1zM451 500h1v2h-1zM452 498h1v2h-1zM453 496h1v2h-1zM454 494h1v2h-1zM455 492h1v2h-1zM456 490h1v2h-1zM457 488h1v2h-1zM458 486h1v2h-1zM459 484h1v2h-1zM460 482h1v2h-1zM461 480h1v2h-1zM463 477h1v2h-1zM465 474h1v2h-1zM466 472h1v2h-1zM468 469h1v2h-1zM470 466h1v2h-1zM471 464h1v2h-1zM472 462h1v2h-1zM473 460h1v2h-1zM474 458h1v2h-1zM475 456h1v2h-1zM476 453h1v3h-1zM477 447h1v6h-1zM478 441h1v6h-1zM479 436h1v5h-1zM480 432h1v4h-1zM481 428h1v4h-1zM482 424h1v4h-1zM483 420h1v4h-1zM484 416h1v4h-1zM485 411h1v5h-1zM486 406h1v5h-1zM487 401h1v5h-1zM488 396h1v5h-1zM489 392h1v4h-1zM490 387h1v5h-1zM491 382h1v5h-1zM492 377h1v5h-1zM493 373h1v4h-1zM494 369h1v4h-1zM495 365h1v4h-1zM496 361h1v4h-1zM497 357h1v4h-1zM498 353h1v4h-1zM499 349h1v4h-1zM500 346h1v3h-1zM501 343h1v3h-1zM502 341h1v2h-1zM503 338h1v3h-1zM504 335h1v3h-1zM505 332h1v3h-1zM506 330h1v2h-1zM507 327h1v3h-1zM508 323h1v4h-1zM509 319h1v4h-1zM510 315h1v4h-1zM511 311h1v4h-1zM512 307h1v4h-1zM513 303h1v4h-1zM514 299h1v4h-1zM515 295h1v4h-1zM516 292h1v3h-1zM524 287h1v2h-1zM525 285h1v2h-1zM526 283h1v2h-1zM527 281h1v2h-1zM528 279h1v2h-1zM529 277h1v2h-1zM530 275h1v2h-1zM531 273h1v2h-1zM532 271h1v2h-1zM533 269h1v2h-1zM534 267h1v2h-1zM536 264h1v2h-1zM538 261h1v2h-1zM540 258h1v2h-1zM542 255h1v2h-1zM611 201h1v2h-1zM617 194h1v2h-1zM619 191h1v2h-1zM620 189h1v2h-1zM622 186h1v2h-1zM624 183h1v2h-1zM626 180h1v2h-1zM627 178h1v2h-1zM629 175h1v2h-1zM631 172h1v2h-1zM632 170h1v2h-1zM634 167h1v2h-1zM635 165h1v2h-1zM636 163h1v2h-1zM638 160h1v2h-1zM639 158h1v2h-1zM641 155h1v2h-1zM642 153h1v2h-1zM643 151h1v2h-1zM845 152h1v2h-1zM848 156h1v2h-1zM850 159h1v2h-1zM853 163h1v2h-1zM855 166h1v2h-1zM858 170h1v2h-1zM861 174h1v2h-1zM864 178h1v2h-1zM867 182h1v2h-1zM870 186h1v2h-1zM873 190h1v2h-1zM875 193h1v2h-1zM876 195h1v2h-1zM877 197h1v2h-1zM878 199h1v2h-1zM879 201h1v2h-1zM880 203h1v2h-1zM881 205h1v2h-1zM882 207h1v2h-1zM883 209h1v2h-1zM884 211h1v2h-1zM887 215h1v2h-1zM893 222h1v2h-1zM932 247h1v2h-1zM935 251h1v2h-1zM938 255h1v2h-1zM939 257h1v3h-1zM940 260h1v4h-1zM941 264h1v4h-1zM942 268h1v4h-1zM943 272h1v4h-1zM944 276h1v4h-1zM945 280h1v4h-1zM946 284h1v4h-1zM947 288h1v4h-1zM948 292h1v3h-1zM949 295h1v2h-1zM950 297h1v3h-1zM951 300h1v2h-1zM952 302h1v3h-1zM953 305h1v2h-1zM954 307h1v2h-1zM955 309h1v2h-1zM956 311h1v2h-1zM958 314h1v2h-1zM959 316h1v2h-1zM961 319h1v2h-1zM962 321h1v2h-1zM963 323h1v2h-1zM964 325h1v2h-1zM965 327h1v2h-1zM967 330h1v2h-1zM968 332h1v2h-1zM969 334h1v2h-1zM970 336h1v2h-1zM971 338h1v2h-1zM975 343h1v2h-1zM981 350h1v2h-1zM1077 359h1v2h-1zM1080 355h1v2h-1zM1083 351h1v2h-1zM1117 346h1v2h-1zM1119 349h1v2h-1zM1120 351h1v2h-1zM1122 354h1v2h-1zM1164 361h1v2h-1zM1165 363h1v2h-1zM1166 365h1v3h-1zM1167 368h1v3h-1zM1168 371h1v2h-1zM1169 373h1v3h-1zM1170 376h1v3h-1zM1171 379h1v3h-1zM1172 382h1v3h-1zM1173 385h1v3h-1zM1174 388h1v3h-1zM1175 391h1v3h-1zM1176 394h1v3h-1zM1177 397h1v3h-1zM1178 400h1v3h-1zM1179 403h1v3h-1zM1180 406h1v2h-1zM1181 408h1v2h-1zM1182 410h1v2h-1zM1183 412h1v3h-1zM1184 415h1v2h-1zM1185 417h1v2h-1zM1186 419h1v2h-1zM1187 421h1v2h-1zM1192 427h1v2h-1zM1265 446h1v2h-1zM1270 452h1v2h-1zM1271 454h1v2h-1zM1273 457h1v2h-1zM1274 459h1v2h-1zM1275 461h1v2h-1zM780 122h1v1h-1zM778 123h2v1h-2zM781 123h2v1h-2zM776 124h2v1h-2zM783 124h1v1h-1zM774 125h2v1h-2zM784 125h2v1h-2zM772 126h2v1h-2zM786 126h2v1h-2zM771 127h1v1h-1zM788 127h1v1h-1zM769 128h2v1h-2zM789 128h2v1h-2zM767 129h2v1h-2zM791 129h1v1h-1zM765 130h2v1h-2zM792 130h2v1h-2zM762 131h3v1h-3zM794 131h2v1h-2zM758 132h4v1h-4zM796 132h1v1h-1zM754 133h4v1h-4zM797 133h2v1h-2zM750 134h4v1h-4zM799 134h2v1h-2zM748 135h2v1h-2zM801 135h2v1h-2zM747 136h1v1h-1zM803 136h1v1h-1zM746 137h1v1h-1zM804 137h2v1h-2zM745 138h1v1h-1zM806 138h2v1h-2zM744 139h1v1h-1zM808 139h2v1h-2zM743 140h1v1h-1zM810 140h2v1h-2zM742 141h1v1h-1zM812 141h3v1h-3zM741 142h1v1h-1zM815 142h6v1h-6zM740 143h1v1h-1zM821 143h6v1h-6zM738 144h2v1h-2zM827 144h4v1h-4zM736 145h2v1h-2zM831 145h2v1h-2zM734 146h2v1h-2zM833 146h2v1h-2zM732 147h2v1h-2zM835 147h2v1h-2zM730 148h2v1h-2zM837 148h2v1h-2zM649 149h5v1h-5zM728 149h2v1h-2zM839 149h2v1h-2zM644 150h5v1h-5zM654 150h2v1h-2zM726 150h2v1h-2zM841 150h2v1h-2zM656 151h2v1h-2zM725 151h1v1h-1zM843 151h2v1h-2zM658 152h2v1h-2zM723 152h2v1h-2zM660 153h3v1h-3zM721 153h2v1h-2zM663 154h5v1h-5zM719 154h2v1h-2zM846 154h1v1h-1zM668 155h5v1h-5zM717 155h2v1h-2zM847 155h1v1h-1zM673 156h44v1h-44zM640 157h1v1h-1zM849 158h1v1h-1zM851 161h1v1h-1zM637 162h1v1h-1zM852 162h1v1h-1zM854 165h1v1h-1zM856 168h1v1h-1zM633 169h1v1h-1zM857 169h1v1h-1zM859 172h1v1h-1zM860 173h1v1h-1zM630 174h1v1h-1zM862 176h1v1h-1zM628 177h1v1h-1zM863 177h1v1h-1zM865 180h1v1h-1zM866 181h1v1h-1zM625 182h1v1h-1zM868 184h1v1h-1zM623 185h1v1h-1zM869 185h1v1h-1zM621 188h1v1h-1zM871 188h1v1h-1zM872 189h1v1h-1zM874 192h1v1h-1zM618 193h1v1h-1zM616 196h1v1h-1zM615 197h1v1h-1zM614 198h1v1h-1zM613 199h1v1h-1zM612 200h1v1h-1zM610 203h1v1h-1zM609 204h1v1h-1zM608 205h1v1h-1zM607 206h1v1h-1zM606 207h1v1h-1zM604 208h2v1h-2zM603 209h1v1h-1zM602 210h1v1h-1zM600 211h2v1h-2zM599 212h1v1h-1zM597 213h2v1h-2zM885 213h1v1h-1zM596 214h1v1h-1zM886 214h1v1h-1zM594 215h2v1h-2zM593 216h1v1h-1zM592 217h1v1h-1zM888 217h1v1h-1zM590 218h2v1h-2zM889 218h1v1h-1zM589 219h1v1h-1zM890 219h1v1h-1zM588 220h1v1h-1zM891 220h1v1h-1zM587 221h1v1h-1zM892 221h1v1h-1zM586 222h1v1h-1zM585 223h1v1h-1zM584 224h1v1h-1zM894 224h1v1h-1zM583 225h1v1h-1zM895 225h1v1h-1zM581 226h2v1h-2zM896 226h1v1h-1zM580 227h1v1h-1zM897 227h1v1h-1zM579 228h1v1h-1zM898 228h1v1h-1zM578 229h1v1h-1zM899 229h2v1h-2zM577 230h1v1h-1zM901 230h1v1h-1zM576 231h1v1h-1zM902 231h1v1h-1zM575 232h1v1h-1zM903 232h1v1h-1zM574 233h1v1h-1zM904 233h1v1h-1zM573 234h1v1h-1zM905 234h2v1h-2zM572 235h1v1h-1zM907 235h1v1h-1zM571 236h1v1h-1zM908 236h2v1h-2zM569 237h2v1h-2zM910 237h3v1h-3zM568 238h1v1h-1zM913 238h4v1h-4zM567 239h1v1h-1zM917 239h3v1h-3zM566 240h1v1h-1zM920 240h2v1h-2zM565 241h1v1h-1zM922 241h2v1h-2zM563 242h2v1h-2zM924 242h2v1h-2zM561 243h2v1h-2zM926 243h1v1h-1zM560 244h1v1h-1zM927 244h2v1h-2zM558 245h2v1h-2zM929 245h2v1h-2zM556 246h2v1h-2zM931 246h1v1h-1zM554 247h2v1h-2zM553 248h1v1h-1zM551 249h2v1h-2zM933 249h1v1h-1zM549 250h2v1h-2zM934 250h1v1h-1zM548 251h1v1h-1zM546 252h2v1h-2zM23 253h6v1h-6zM544 253h2v1h-2zM936 253h1v1h-1zM14 254h9v1h-9zM29 254h1v1h-1zM543 254h1v1h-1zM937 254h1v1h-1zM8 255h6v1h-6zM30 255h1v1h-1zM4 256h4v1h-4zM31 256h1v1h-1zM32 257h1v1h-1zM541 257h1v1h-1zM33 258h1v1h-1zM34 259h1v1h-1zM539 260h1v1h-1zM36 262h1v1h-1zM537 263h1v1h-1zM38 265h1v1h-1zM535 266h1v1h-1zM40 268h1v1h-1zM42 271h1v1h-1zM44 274h1v1h-1zM45 275h1v1h-1zM46 276h1v1h-1zM47 277h1v1h-1zM48 278h1v1h-1zM49 279h1v1h-1zM50 280h1v1h-1zM51 281h1v1h-1zM52 282h1v1h-1zM53 283h1v1h-1zM54 284h1v1h-1zM55 285h1v1h-1zM523 288h1v1h-1zM521 289h2v1h-2zM519 290h2v1h-2zM517 291h2v1h-2zM957 313h1v1h-1zM960 318h1v1h-1zM966 329h1v1h-1zM972 340h1v1h-1zM973 341h1v1h-1zM974 342h1v1h-1zM1108 343h4v1h-4zM1093 344h4v1h-4zM1103 344h5v1h-5zM1112 344h3v1h-3zM976 345h1v1h-1zM1091 345h2v1h-2zM1097 345h6v1h-6zM1115 345h2v1h-2zM977 346h1v1h-1zM1090 346h1v1h-1zM978 347h1v1h-1zM1088 347h2v1h-2zM979 348h1v1h-1zM1087 348h1v1h-1zM1118 348h1v1h-1zM980 349h1v1h-1zM1085 349h2v1h-2zM1084 350h1v1h-1zM982 352h1v1h-1zM983 353h1v1h-1zM1082 353h1v1h-1zM1121 353h1v1h-1zM984 354h1v1h-1zM1081 354h1v1h-1zM985 355h1v1h-1zM986 356h1v1h-1zM1123 356h1v1h-1zM987 357h1v1h-1zM1079 357h1v1h-1zM1124 357h2v1h-2zM988 358h1v1h-1zM1078 358h1v1h-1zM1126 358h2v1h-2zM989 359h1v1h-1zM1128 359h2v1h-2zM990 360h2v1h-2zM1130 360h1v1h-1zM1153 360h7v1h-7zM992 361h1v1h-1zM1076 361h1v1h-1zM1131 361h2v1h-2zM1149 361h4v1h-4zM1160 361h4v1h-4zM993 362h1v1h-1zM1074 362h2v1h-2zM1133 362h2v1h-2zM1145 362h4v1h-4zM994 363h1v1h-1zM1073 363h1v1h-1zM1135 363h2v1h-2zM1141 363h4v1h-4zM995 364h1v1h-1zM1072 364h1v1h-1zM1137 364h4v1h-4zM996 365h1v1h-1zM1070 365h2v1h-2zM997 366h3v1h-3zM1069 366h1v1h-1zM1000 367h5v1h-5zM1067 367h2v1h-2zM1005 368h5v1h-5zM1065 368h2v1h-2zM1010 369h3v1h-3zM1062 369h3v1h-3zM1013 370h2v1h-2zM1060 370h2v1h-2zM1015 371h1v1h-1zM1056 371h4v1h-4zM1016 372h2v1h-2zM1051 372h5v1h-5zM1018 373h1v1h-1zM1047 373h4v1h-4zM1019 374h2v1h-2zM1028 374h19v1h-19zM1021 375h7v1h-7zM110 412h1v1h-1zM112 415h1v1h-1zM114 418h1v1h-1zM116 421h1v1h-1zM1188 423h1v1h-1zM118 424h1v1h-1zM1189 424h1v1h-1zM1190 425h1v1h-1zM1191 426h1v1h-1zM120 427h1v1h-1zM1193 429h1v1h-1zM122 430h1v1h-1zM1194 430h1v1h-1zM1195 431h1v1h-1zM1196 432h1v1h-1zM124 433h2v1h-2zM1197 433h2v1h-2zM126 434h2v1h-2zM1199 434h2v1h-2zM128 435h2v1h-2zM1201 435h1v1h-1zM130 436h2v1h-2zM1202 436h2v1h-2zM132 437h3v1h-3zM1204 437h2v1h-2zM135 438h2v1h-2zM1206 438h1v1h-1zM137 439h2v1h-2zM1207 439h2v1h-2zM139 440h2v1h-2zM1209 440h2v1h-2zM1248 440h6v1h-6zM141 441h9v1h-9zM1211 441h2v1h-2zM1242 441h6v1h-6zM1254 441h5v1h-5zM150 442h8v1h-8zM1213 442h29v1h-29zM1259 442h3v1h-3zM1262 443h1v1h-1zM1263 444h1v1h-1zM1264 445h1v1h-1zM1266 448h1v1h-1zM1267 449h1v1h-1zM1268 450h1v1h-1zM176 451h5v1h-5zM1269 451h1v1h-1zM171 452h5v1h-5zM181 452h2v1h-2zM169 453h2v1h-2zM183 453h1v1h-1zM167 454h2v1h-2zM184 454h2v1h-2zM165 455h2v1h-2zM1272 456h1v1h-1zM1276 463h1v1h-1zM1277 464h1v1h-1zM1278 465h1v1h-1zM1279 466h1v1h-1zM1280 467h2v1h-2zM469 468h1v1h-1zM1282 468h1v1h-1zM1283 469h1v1h-1zM1284 470h1v1h-1zM467 471h1v1h-1zM464 476h1v1h-1zM462 479h1v1h-1zM202 492h1v1h-1zM204 495h1v1h-1zM205 496h1v1h-1zM207 499h1v1h-1zM209 502h1v1h-1zM210 503h1v1h-1zM212 506h1v1h-1zM213 507h1v1h-1zM215 510h1v1h-1zM216 511h1v1h-1zM445 512h1v1h-1zM444 513h1v1h-1zM218 514h1v1h-1zM442 514h2v1h-2zM219 515h1v1h-1zM441 515h1v1h-1zM440 516h1v1h-1zM438 517h2v1h-2zM221 518h1v1h-1zM437 518h1v1h-1zM436 519h1v1h-1zM434 520h2v1h-2zM223 521h1v1h-1zM433 521h1v1h-1zM432 522h1v1h-1zM430 523h2v1h-2zM225 524h1v1h-1zM429 524h1v1h-1zM226 525h1v1h-1zM428 525h1v1h-1zM426 526h2v1h-2zM424 527h2v1h-2zM228 528h1v1h-1zM422 528h2v1h-2zM420 529h2v1h-2zM419 530h1v1h-1zM230 531h1v1h-1zM417 531h2v1h-2zM415 532h2v1h-2zM316 533h1v1h-1zM413 533h2v1h-2zM232 534h1v1h-1zM314 534h2v1h-2zM317 534h2v1h-2zM412 534h1v1h-1zM233 535h1v1h-1zM313 535h1v1h-1zM319 535h1v1h-1zM355 535h2v1h-2zM411 535h1v1h-1zM234 536h2v1h-2zM312 536h1v1h-1zM320 536h2v1h-2zM336 536h4v1h-4zM354 536h1v1h-1zM410 536h1v1h-1zM236 537h1v1h-1zM310 537h2v1h-2zM322 537h1v1h-1zM332 537h4v1h-4zM340 537h2v1h-2zM352 537h2v1h-2zM409 537h1v1h-1zM237 538h1v1h-1zM309 538h1v1h-1zM323 538h2v1h-2zM328 538h4v1h-4zM342 538h3v1h-3zM351 538h1v1h-1zM238 539h2v1h-2zM307 539h2v1h-2zM325 539h3v1h-3zM345 539h2v1h-2zM349 539h2v1h-2zM240 540h1v1h-1zM305 540h2v1h-2zM347 540h2v1h-2zM407 540h1v1h-1zM241 541h1v1h-1zM302 541h3v1h-3zM406 541h1v1h-1zM242 542h2v1h-2zM300 542h2v1h-2zM405 542h1v1h-1zM244 543h1v1h-1zM298 543h2v1h-2zM402 543h3v1h-3zM245 544h1v1h-1zM295 544h3v1h-3zM399 544h3v1h-3zM246 545h2v1h-2zM291 545h4v1h-4zM395 545h4v1h-4zM248 546h1v1h-1zM288 546h3v1h-3zM391 546h4v1h-4zM249 547h1v1h-1zM285 547h3v1h-3zM388 547h3v1h-3zM250 548h2v1h-2zM281 548h4v1h-4zM384 548h4v1h-4zM252 549h2v1h-2zM274 549h7v1h-7zM365 549h19v1h-19zM254 550h4v1h-4zM264 550h10v1h-10zM258 551h6v1h-6z" fill="#3cb371" shape-rendering="crispEdges" />
<rect x="4" y="145" width="1619" height="1" fill="#ff0000"/>
<rect x="4.5" y="143.5" width="4" height="4" fill="#fff" stroke="#ff0000" stroke-width="1"/>
<rect x="1618.5" y="143.5" width="4" height="4" fill="#fff" stroke="#ff0000" stroke-width="1"/>
<rect x="4" y="173" width="1619" height="1" fill="#ff0000"/>
<rect x="4.5" y="171.5" width="4" height="4" fill="#fff" stroke="#ff0000" stroke-width="1"/>
<rect x="1618.5" y="171.5" width="4" height="4" fill="#fff" stroke="#ff0000" stroke-width="1"/>
<rect x="4" y="233" width="1619" height="1" fill="#32cd32"/>
<rect x="4.5" y="231.5" width="4" height="4" fill="#fff" stroke="#32cd32" stroke-width="1"/>
<rect x="1618.5" y="231.5" width="4" height="4" fill="#fff" stroke="#32cd32" stroke-width="1"/>
<rect x="4" y="259" width="1619" height="1" fill="#0000ff"/>
<rect x="4.5" y="257.5" width="4" height="4" fill="#fff" stroke="#0000ff" stroke-width="1"/>
<rect x="1618.5" y="257.5" width="4" height="4" fill="#fff" stroke="#0000ff" stroke-width="1"/>
<rect x="4" y="285" width="1619" height="1" fill="#0000ff"/>
<rect x="4.5" y="283.5" width="4" height="4" fill="#fff" stroke="#0000ff" stroke-width="1"/>
<rect x="1618.5" y="283.5" width="4" height="4" fill="#fff" stroke="#0000ff" stroke-width="1"/>
<g shape-rendering="crispEdges">
<rect x="4" y="207" width="1" height="12" fill="#000"/>
<rect x="2" y="209" width="5" height="4" fill="#000"/>
<rect x="12" y="192" width="1" height="30" fill="#000"/>
<rect x="10" y="194" width="5" height="18" fill="#000"/>
<rect x="11" y="195" width="3" height="16" fill="#fff"/>
<rect x="20" y="193" width="1" height="37" fill="#000"/>
<rect x="18" y="194" width="5" height="36" fill="#000"/>
<rect x="28" y="218" width="1" height="8" fill="#000"/>
<rect x="26" y="222" width="5" height="2" fill="#000"/>
<rect x="36" y="219" width="1" height="76" fill="#000"/>
<rect x="34" y="222" width="5" height="56" fill="#000"/>
<rect x="44" y="270" width="1" height="17" fill="#000"/>
<rect x="42" y="278" width="5" height="1" fill="#000"/>
<rect x="52" y="271" width="1" height="16" fill="#000"/>
<rect x="50" y="277" width="5" height="2" fill="#000"/>
<rect x="60" y="262" width="1" height="90" fill="#000"/>
<rect x="58" y="276" width="5" height="32" fill="#000"/>
<rect x="68" y="308" width="1" height="35" fill="#000"/>
<rect x="66" y="308" width="5" height="32" fill="#000"/>
<rect x="76" y="329" width="1" height="16" fill="#000"/>
<rect x="74" y="331" width="5" height="9" fill="#000"/>
<rect x="75" y="332" width="3" height="7" fill="#fff"/>
<rect x="84" y="330" width="1" height="50" fill="#000"/>
<rect x="82" y="332" width="5" height="37" fill="#000"/>
<rect x="92" y="363" width="1" height="13" fill="#000"/>
<rect x="90" y="368" width="5" height="6" fill="#000"/>
<rect x="100" y="369" width="1" height="35" fill="#000"/>
<rect x="98" y="373" width="5" height="19" fill="#000"/>
<rect x="108" y="367" width="1" height="43" fill="#000"/>
<rect x="106" y="372" width="5" height="18" fill="#000"/>
<rect x="107" y="373" width="3" height="16" fill="#fff"/>
<rect x="116" y="353" width="1" height="36" fill="#000"/>
<rect x="114" y="371" width="5" height="7" fill="#000"/>
<rect x="124" y="370" width="1" height="22" fill="#000"/>
<rect x="122" y="376" width="5" height="10" fill="#000"/>
<rect x="132" y="360" width="1" height="25" fill="#000"/>
<rect x="130" y="360" width="5" height="12" fill="#000"/>
<rect x="131" y="361" width="3" height="10" fill="#fff"/>
<rect x="140" y="358" width="1" height="20" fill="#000"/>
<rect x="138" y="360" width="5" height="4" fill="#000"/>
<rect x="148" y="345" width="1" height="22" fill="#000"/>
<rect x="146" y="349" width="5" height="15" fill="#000"/>
<rect x="147" y="350" width="3" height="13" fill="#fff"/>
<rect x="156" y="333" width="1" height="20" fill="#000"/>
<rect x="154" y="348" width="5" height="4" fill="#000"/>
<rect x="164" y="344" width="1" height="116" fill="#000"/>
<rect x="162" y="351" width="5" height="98" fill="#000"/>
<rect x="172" y="390" width="1" height="60" fill="#000"/>
<rect x="170" y="394" width="5" height="55" fill="#000"/>
<rect x="171" y="395" width="3" height="53" fill="#fff"/>
<rect x="180" y="378" width="1" height="27" fill="#000"/>
<rect x="178" y="394" width="5" height="1" fill="#000"/>
<rect x="188" y="391" width="1" height="110" fill="#000"/>
<rect x="186" y="395" width="5" height="70" fill="#000"/>
<rect x="196" y="456" width="1" height="61" fill="#000"/>
<rect x="194" y="464" width="5" height="48" fill="#000"/>
<rect x="204" y="474" width="1" height="42" fill="#000"/>
<rect x="202" y="494" width="5" height="17" fill="#000"/>
<rect x="203" y="495" width="3" height="15" fill="#fff"/>
<rect x="212" y="448" width="1" height="53" fill="#000"/>
<rect x="210" y="493" width="5" height="2" fill="#000"/>
<rect x="220" y="483" width="1" height="49" fill="#000"/>
<rect x="218" y="494" width="5" height="4" fill="#000"/>
<rect x="228" y="504" width="1" height="41" fill="#000"/>
<rect x="226" y="506" width="5" height="33" fill="#000"/>
<rect x="227" y="507" width="3" height="31" fill="#fff"/>
<rect x="236" y="477" width="1" height="40" fill="#000"/>
<rect x="234" y="489" width="5" height="18" fill="#000"/>
<rect x="235" y="490" width="3" height="16" fill="#fff"/>
<rect x="244" y="466" width="1" height="41" fill="#000"/>
<rect x="242" y="480" width="5" height="9" fill="#000"/>
<rect x="243" y="481" width="3" height="7" fill="#fff"/>
<rect x="252" y="474" width="1" height="41" fill="#000"/>
<rect x="250" y="478" width="5" height="11" fill="#000"/>
<rect x="260" y="429" width="1" height="64" fill="#000"/>
<rect x="258" y="438" width="5" height="50" fill="#000"/>
<rect x="259" y="439" width="3" height="48" fill="#fff"/>
<rect x="268" y="402" width="1" height="42" fill="#000"/>
<rect x="266" y="412" width="5" height="26" fill="#000"/>
<rect x="267" y="413" width="3" height="24" fill="#fff"/>
<rect x="276" y="411" width="1" height="20" fill="#000"/>
<rect x="274" y="412" width="5" height="9" fill="#000"/>
<rect x="284" y="404" width="1" height="24" fill="#000"/>
<rect x="282" y="409" width="5" height="12" fill="#000"/>
<rect x="283" y="410" width="3" height="10" fill="#fff"/>
<rect x="292" y="402" width="1" height="48" fill="#000"/>
<rect x="290" y="408" width="5" height="31" fill="#000"/>
<rect x="300" y="403" width="1" height="38" fill="#000"/>
<rect x="298" y="423" width="5" height="15" fill="#000"/>
<rect x="299" y="424" width="3" height="13" fill="#fff"/>
<rect x="308" y="378" width="1" height="60" fill="#000"/>
<rect x="306" y="383" width="5" height="41" fill="#000"/>
<rect x="307" y="384" width="3" height="39" fill="#fff"/>
<rect x="316" y="379" width="1" height="23" fill="#000"/>
<rect x="314" y="382" width="5" height="17" fill="#000"/>
<rect x="324" y="392" width="1" height="142" fill="#000"/>
<rect x="322" y="398" width="5" height="103" fill="#000"/>
<rect x="332" y="411" width="1" height="157" fill="#000"/>
<rect x="330" y="430" width="5" height="71" fill="#000"/>
<rect x="331" y="431" width="3" height="69" fill="#fff"/>
<rect x="340" y="409" width="1" height="39" fill="#000"/>
<rect x="338" y="419" width="5" height="11" fill="#000"/>
<rect x="339" y="420" width="3" height="9" fill="#fff"/>
<rect x="348" y="351" width="1" height="74" fill="#000"/>
<rect x="346" y="361" width="5" height="57" fill="#000"/>
<rect x="347" y="362" width="3" height="55" fill="#fff"/>
<rect x="356" y="342" width="1" height="40" fill="#000"/>
<rect x="354" y="360" width="5" height="21" fill="#000"/>
<rect x="364" y="260" width="1" height="120" fill="#000"/>
<rect x="362" y="262" width="5" height="118" fill="#000"/>
<rect x="363" y="263" width="3" height="116" fill="#fff"/>
<rect x="372" y="262" width="1" height="45" fill="#000"/>
<rect x="370" y="262" width="5" height="38" fill="#000"/>
<rect x="380" y="257" width="1" height="45" fill="#000"/>
<rect x="378" y="270" width="5" height="29" fill="#000"/>
<rect x="379" y="271" width="3" height="27" fill="#fff"/>
<rect x="388" y="237" width="1" height="35" fill="#000"/>
<rect x="386" y="238" width="5" height="33" fill="#000"/>
<rect x="387" y="239" width="3" height="31" fill="#fff"/>
<rect x="396" y="212" width="1" height="43" fill="#000"/>
<rect x="394" y="219" width="5" height="21" fill="#000"/>
<rect x="395" y="220" width="3" height="19" fill="#fff"/>
<rect x="404" y="194" width="1" height="52" fill="#000"/>
<rect x="402" y="202" width="5" height="18" fill="#000"/>
<rect x="403" y="203" width="3" height="16" fill="#fff"/>
<rect x="412" y="198" width="1" height="33" fill="#000"/>
<rect x="410" y="202" width="5" height="7" fill="#000"/>
<rect x="420" y="203" width="1" height="13" fill="#000"/>
<rect x="418" y="208" width="5" height="3" fill="#000"/>
<rect x="428" y="194" width="1" height="24" fill="#000"/>
<rect x="426" y="204" width="5" height="7" fill="#000"/>
<rect x="427" y="205" width="3" height="5" fill="#fff"/>
<rect x="436" y="190" width="1" height="16" fill="#000"/>
<rect x="434" y="197" width="5" height="8" fill="#000"/>
<rect x="435" y="198" width="3" height="6" fill="#fff"/>
<rect x="444" y="180" width="1" height="20" fill="#000"/>
<rect x="442" y="187" width="5" height="9" fill="#000"/>
<rect x="443" y="188" width="3" height="7" fill="#fff"/>
<rect x="452" y="174" width="1" height="36" fill="#000"/>
<rect x="450" y="187" width="5" height="11" fill="#000"/>
<rect x="460" y="196" width="1" height="28" fill="#000"/>
<rect x="458" y="198" width="5" height="9" fill="#000"/>
<rect x="468" y="193" width="1" height="11" fill="#000"/>
<rect x="466" y="200" width="5" height="4" fill="#000"/>
<rect x="467" y="201" width="3" height="2" fill="#fff"/>
<rect x="476" y="184" width="1" height="20" fill="#000"/>
<rect x="474" y="189" width="5" height="13" fill="#000"/>
<rect x="475" y="190" width="3" height="11" fill="#fff"/>
<rect x="484" y="181" width="1" height="8" fill="#000"/>
<rect x="482" y="185" width="5" height="4" fill="#000"/>
<rect x="483" y="186" width="3" height="2" fill="#fff"/>
<rect x="492" y="128" width="1" height="60" fill="#000"/>
<rect x="490" y="143" width="5" height="44" fill="#000"/>
<rect x="491" y="144" width="3" height="42" fill="#fff"/>
<rect x="500" y="125" width="1" height="28" fill="#000"/>
<rect x="498" y="128" width="5" height="15" fill="#000"/>
<rect x="499" y="129" width="3" height="13" fill="#fff"/>
<rect x="508" y="124" width="1" height="20" fill="#000"/>
<rect x="506" y="128" width="5" height="1" fill="#000"/>
<rect x="516" y="108" width="1" height="27" fill="#000"/>
<rect x="514" y="111" width="5" height="18" fill="#000"/>
<rect x="515" y="112" width="3" height="16" fill="#fff"/>
<rect x="524" y="72" width="1" height="43" fill="#000"/>
<rect x="522" y="98" width="5" height="15" fill="#000"/>
<rect x="523" y="99" width="3" height="13" fill="#fff"/>
<rect x="532" y="88" width="1" height="33" fill="#000"/>
<rect x="530" y="98" width="5" height="20" fill="#000"/>
<rect x="540" y="101" width="1" height="36" fill="#000"/>
<rect x="538" y="117" width="5" height="1" fill="#000"/>
<rect x="548" y="91" width="1" height="37" fill="#000"/>
<rect x="546" y="104" width="5" height="14" fill="#000"/>
<rect x="547" y="105" width="3" height="12" fill="#fff"/>
<rect x="556" y="91" width="1" height="51" fill="#000"/>
<rect x="554" y="104" width="5" height="12" fill="#000"/>
<rect x="564" y="112" width="1" height="38" fill="#000"/>
<rect x="562" y="114" width="5" height="30" fill="#000"/>
<rect x="572" y="118" width="1" height="22" fill="#000"/>
<rect x="570" y="133" width="5" height="7" fill="#000"/>
<rect x="571" y="134" width="3" height="5" fill="#fff"/>
<rect x="580" y="123" width="1" height="17" fill="#000"/>
<rect x="578" y="130" width="5" height="4" fill="#000"/>
<rect x="579" y="131" width="3" height="2" fill="#fff"/>
<rect x="588" y="123" width="1" height="24" fill="#000"/>
<rect x="586" y="131" width="5" height="13" fill="#000"/>
<rect x="596" y="114" width="1" height="41" fill="#000"/>
<rect x="594" y="116" width="5" height="28" fill="#000"/>
<rect x="595" y="117" width="3" height="26" fill="#fff"/>
<rect x="604" y="113" width="1" height="29" fill="#000"/>
<rect x="602" y="116" width="5" height="14" fill="#000"/>
<rect x="612" y="128" width="1" height="14" fill="#000"/>
<rect x="610" y="129" width="5" height="8" fill="#000"/>
<rect x="620" y="115" width="1" height="24" fill="#000"/>
<rect x="618" y="127" width="5" height="10" fill="#000"/>
<rect x="619" y="128" width="3" height="8" fill="#fff"/>
<rect x="628" y="117" width="1" height="13" fill="#000"/>
<rect x="626" y="120" width="5" height="7" fill="#000"/>
<rect x="627" y="121" width="3" height="5" fill="#fff"/>
<rect x="636" y="101" width="1" height="23" fill="#000"/>
<rect x="634" y="118" width="5" height="2" fill="#000"/>
<rect x="644" y="86" width="1" height="42" fill="#000"/>
<rect x="642" y="92" width="5" height="28" fill="#000"/>
<rect x="643" y="93" width="3" height="26" fill="#fff"/>
<rect x="652" y="79" width="1" height="12" fill="#000"/>
<rect x="650" y="89" width="5" height="2" fill="#000"/>
<rect x="660" y="67" width="1" height="23" fill="#000"/>
<rect x="658" y="79" width="5" height="11" fill="#000"/>
<rect x="659" y="80" width="3" height="9" fill="#fff"/>
<rect x="668" y="57" width="1" height="28" fill="#000"/>
<rect x="666" y="71" width="5" height="9" fill="#000"/>
<rect x="667" y="72" width="3" height="7" fill="#fff"/>
<rect x="676" y="64" width="1" height="15" fill="#000"/>
<rect x="674" y="72" width="5" height="1" fill="#000"/>
<rect x="684" y="67" width="1" height="31" fill="#000"/>
<rect x="682" y="72" width="5" height="12" fill="#000"/>
<rect x="692" y="72" width="1" height="33" fill="#000"/>
<rect x="690" y="82" width="5" height="3" fill="#000"/>
<rect x="691" y="83" width="3" height="1" fill="#fff"/>
<rect x="700" y="74" width="1" height="19" fill="#000"/>
<rect x="698" y="81" width="5" height="4" fill="#000"/>
<rect x="708" y="76" width="1" height="14" fill="#000"/>
<rect x="706" y="77" width="5" height="12" fill="#000"/>
<rect x="707" y="78" width="3" height="10" fill="#fff"/>
<rect x="716" y="71" width="1" height="13" fill="#000"/>
<rect x="714" y="77" width="5" height="1" fill="#000"/>
<rect x="724" y="76" width="1" height="16" fill="#000"/>
<rect x="722" y="77" width="5" height="13" fill="#000"/>
<rect x="732" y="76" width="1" height="16" fill="#000"/>
<rect x="730" y="77" width="5" height="13" fill="#000"/>
<rect x="731" y="78" width="3" height="11" fill="#fff"/>
<rect x="740" y="75" width="1" height="13" fill="#000"/>
<rect x="738" y="77" width="5" height="7" fill="#000"/>
<rect x="748" y="78" width="1" height="7" fill="#000"/>
<rect x="746" y="83" width="5" height="1" fill="#000"/>
<rect x="756" y="77" width="1" height="9" fill="#000"/>
<rect x="754" y="80" width="5" height="4" fill="#000"/>
<rect x="755" y="81" width="3" height="2" fill="#fff"/>
<rect x="764" y="70" width="1" height="64" fill="#000"/>
<rect x="762" y="79" width="5" height="41" fill="#000"/>
<rect x="772" y="109" width="1" height="27" fill="#000"/>
<rect x="770" y="117" width="5" height="4" fill="#000"/>
<rect x="771" y="118" width="3" height="2" fill="#fff"/>
<rect x="780" y="98" width="1" height="32" fill="#000"/>
<rect x="778" y="102" width="5" height="16" fill="#000"/>
<rect x="779" y="103" width="3" height="14" fill="#fff"/>
<rect x="788" y="90" width="1" height="50" fill="#000"/>
<rect x="786" y="103" width="5" height="29" fill="#000"/>
<rect x="796" y="118" width="1" height="42" fill="#000"/>
<rect x="794" y="131" width="5" height="24" fill="#000"/>
<rect x="804" y="126" width="1" height="30" fill="#000"/>
<rect x="802" y="130" width="5" height="25" fill="#000"/>
<rect x="803" y="131" width="3" height="23" fill="#fff"/>
<rect x="812" y="94" width="1" height="46" fill="#000"/>
<rect x="810" y="107" width="5" height="22" fill="#000"/>
<rect x="811" y="108" width="3" height="20" fill="#fff"/>
<rect x="820" y="101" width="1" height="18" fill="#000"/>
<rect x="818" y="108" width="5" height="5" fill="#000"/>
<rect x="828" y="112" width="1" height="15" fill="#000"/>
<rect x="826" y="112" width="5" height="3" fill="#000"/>
<rect x="836" y="113" width="1" height="34" fill="#000"/>
<rect x="834" y="114" width="5" height="18" fill="#000"/>
<rect x="844" y="125" width="1" height="18" fill="#000"/>
<rect x="842" y="131" width="5" height="5" fill="#000"/>
<rect x="852" y="134" width="1" height="46" fill="#000"/>
<rect x="850" y="135" width="5" height="30" fill="#000"/>
<rect x="860" y="159" width="1" height="34" fill="#000"/>
<rect x="858" y="164" width="5" height="26" fill="#000"/>
<rect x="868" y="184" width="1" height="26" fill="#000"/>
<rect x="866" y="189" width="5" height="1" fill="#000"/>
<rect x="876" y="183" width="1" height="29" fill="#000"/>
<rect x="874" y="184" width="5" height="6" fill="#000"/>
<rect x="875" y="185" width="3" height="4" fill="#fff"/>
<rect x="884" y="181" width="1" height="66" fill="#000"/>
<rect x="882" y="184" width="5" height="52" fill="#000"/>
<rect x="892" y="203" width="1" height="53" fill="#000"/>
<rect x="890" y="206" width="5" height="28" fill="#000"/>
<rect x="891" y="207" width="3" height="26" fill="#fff"/>
<rect x="900" y="196" width="1" height="23" fill="#000"/>
<rect x="898" y="197" width="5" height="9" fill="#000"/>
<rect x="899" y="198" width="3" height="7" fill="#fff"/>
<rect x="908" y="195" width="1" height="28" fill="#000"/>
<rect x="906" y="197" width="5" height="18" fill="#000"/>
<rect x="916" y="198" width="1" height="19" fill="#000"/>
<rect x="914" y="201" width="5" height="15" fill="#000"/>
<rect x="915" y="202" width="3" height="13" fill="#fff"/>
<rect x="924" y="180" width="1" height="27" fill="#000"/>
<rect x="922" y="188" width="5" height="14" fill="#000"/>
<rect x="923" y="189" width="3" height="12" fill="#fff"/>
<rect x="932" y="186" width="1" height="60" fill="#000"/>
<rect x="930" y="187" width="5" height="36" fill="#000"/>
<rect x="940" y="217" width="1" height="57" fill="#000"/>
<rect x="938" y="221" width="5" height="37" fill="#000"/>
<rect x="948" y="317" width="1" height="43" fill="#000"/>
<rect x="946" y="325" width="5" height="21" fill="#000"/>
<rect x="956" y="294" width="1" height="51" fill="#000"/>
<rect x="954" y="300" width="5" height="45" fill="#000"/>
<rect x="955" y="301" width="3" height="43" fill="#fff"/>
<rect x="964" y="283" width="1" height="23" fill="#000"/>
<rect x="962" y="296" width="5" height="5" fill="#000"/>
<rect x="963" y="297" width="3" height="3" fill="#fff"/>
<rect x="972" y="280" width="1" height="60" fill="#000"/>
<rect x="970" y="295" width="5" height="31" fill="#000"/>
<rect x="980" y="288" width="1" height="48" fill="#000"/>
<rect x="978" y="324" width="5" height="2" fill="#000"/>
<rect x="988" y="295" width="1" height="37" fill="#000"/>
<rect x="986" y="322" width="5" height="3" fill="#000"/>
<rect x="987" y="323" width="3" height="1" fill="#fff"/>
<rect x="996" y="314" width="1" height="20" fill="#000"/>
<rect x="994" y="320" width="5" height="3" fill="#000"/>
<rect x="995" y="321" width="3" height="1" fill="#fff"/>
<rect x="1004" y="297" width="1" height="46" fill="#000"/>
<rect x="1002" y="306" width="5" height="16" fill="#000"/>
<rect x="1003" y="307" width="3" height="14" fill="#fff"/>
<rect x="1012" y="287" width="1" height="31" fill="#000"/>
<rect x="1010" y="290" width="5" height="16" fill="#000"/>
<rect x="1011" y="291" width="3" height="14" fill="#fff"/>
<rect x="1020" y="290" width="1" height="64" fill="#000"/>
<rect x="1018" y="290" width="5" height="38" fill="#000"/>
<rect x="1028" y="268" width="1" height="66" fill="#000"/>
<rect x="1026" y="280" width="5" height="48" fill="#000"/>
<rect x="1027" y="281" width="3" height="46" fill="#fff"/>
<rect x="1036" y="269" width="1" height="21" fill="#000"/>
<rect x="1034" y="278" width="5" height="2" fill="#000"/>
<rect x="1044" y="262" width="1" height="30" fill="#000"/>
<rect x="1042" y="280" width="5" height="1" fill="#000"/>
<rect x="1052" y="261" width="1" height="32" fill="#000"/>
<rect x="1050" y="268" width="5" height="13" fill="#000"/>
<rect x="1051" y="269" width="3" height="11" fill="#fff"/>
<rect x="1060" y="265" width="1" height="35" fill="#000"/>
<rect x="1058" y="267" width="5" height="21" fill="#000"/>
<rect x="1068" y="277" width="1" height="29" fill="#000"/>
<rect x="1066" y="288" width="5" height="4" fill="#000"/>
<rect x="1076" y="271" width="1" height="41" fill="#000"/>
<rect x="1074" y="276" width="5" height="15" fill="#000"/>
<rect x="1075" y="277" width="3" height="13" fill="#fff"/>
<rect x="1084" y="257" width="1" height="44" fill="#000"/>
<rect x="1082" y="276" width="5" height="25" fill="#000"/>
<rect x="1092" y="287" width="1" height="30" fill="#000"/>
<rect x="1090" y="297" width="5" height="12" fill="#000"/>
<rect x="1100" y="298" width="1" height="36" fill="#000"/>
<rect x="1098" y="307" width="5" height="24" fill="#000"/>
<rect x="1108" y="315" width="1" height="29" fill="#000"/>
<rect x="1106" y="330" width="5" height="4" fill="#000"/>
<rect x="1116" y="311" width="1" height="32" fill="#000"/>
<rect x="1114" y="327" width="5" height="7" fill="#000"/>
<rect x="1115" y="328" width="3" height="5" fill="#fff"/>
<rect x="1124" y="306" width="1" height="69" fill="#000"/>
<rect x="1122" y="327" width="5" height="44" fill="#000"/>
<rect x="1132" y="338" width="1" height="50" fill="#000"/>
<rect x="1130" y="351" width="5" height="20" fill="#000"/>
<rect x="1131" y="352" width="3" height="18" fill="#fff"/>
<rect x="1140" y="307" width="1" height="47" fill="#000"/>
<rect x="1138" y="328" width="5" height="22" fill="#000"/>
<rect x="1139" y="329" width="3" height="20" fill="#fff"/>
<rect x="1148" y="280" width="1" height="47" fill="#000"/>
<rect x="1146" y="292" width="5" height="34" fill="#000"/>
<rect x="1147" y="293" width="3" height="32" fill="#fff"/>
<rect x="1156" y="286" width="1" height="21" fill="#000"/>
<rect x="1154" y="292" width="5" height="6" fill="#000"/>
<rect x="1164" y="293" width="1" height="36" fill="#000"/>
<rect x="1162" y="299" width="5" height="24" fill="#000"/>
<rect x="1172" y="313" width="1" height="118" fill="#000"/>
<rect x="1170" y="322" width="5" height="101" fill="#000"/>
<rect x="1180" y="398" width="1" height="43" fill="#000"/>
<rect x="1178" y="422" width="5" height="11" fill="#000"/>
<rect x="1188" y="420" width="1" height="14" fill="#000"/>
<rect x="1186" y="425" width="5" height="9" fill="#000"/>
<rect x="1187" y="426" width="3" height="7" fill="#fff"/>
<rect x="1196" y="388" width="1" height="42" fill="#000"/>
<rect x="1194" y="396" width="5" height="30" fill="#000"/>
<rect x="1195" y="397" width="3" height="28" fill="#fff"/>
<rect x="1204" y="365" width="1" height="43" fill="#000"/>
<rect x="1202" y="379" width="5" height="15" fill="#000"/>
<rect x="1203" y="380" width="3" height="13" fill="#fff"/>
<rect x="1212" y="374" width="1" height="46" fill="#000"/>
<rect x="1210" y="379" width="5" height="20" fill="#000"/>
<rect x="1220" y="346" width="1" height="61" fill="#000"/>
<rect x="1218" y="362" width="5" height="36" fill="#000"/>
<rect x="1219" y="363" width="3" height="34" fill="#fff"/>
<rect x="1228" y="359" width="1" height="41" fill="#000"/>
<rect x="1226" y="362" width="5" height="8" fill="#000"/>
<rect x="1236" y="356" width="1" height="32" fill="#000"/>
<rect x="1234" y="370" width="5" height="11" fill="#000"/>
<rect x="1244" y="349" width="1" height="46" fill="#000"/>
<rect x="1242" y="366" width="5" height="16" fill="#000"/>
<rect x="1243" y="367" width="3" height="14" fill="#fff"/>
<rect x="1252" y="316" width="1" height="51" fill="#000"/>
<rect x="1250" y="318" width="5" height="48" fill="#000"/>
<rect x="1251" y="319" width="3" height="46" fill="#fff"/>
<rect x="1260" y="281" width="1" height="42" fill="#000"/>
<rect x="1258" y="300" width="5" height="19" fill="#000"/>
<rect x="1259" y="301" width="3" height="17" fill="#fff"/>
<rect x="1268" y="240" width="1" height="62" fill="#000"/>
<rect x="1266" y="242" width="5" height="59" fill="#000"/>
<rect x="1267" y="243" width="3" height="57" fill="#fff"/>
<rect x="1276" y="202" width="1" height="49" fill="#000"/>
<rect x="1274" y="210" width="5" height="32" fill="#000"/>
<rect x="1275" y="211" width="3" height="30" fill="#fff"/>
<rect x="1284" y="201" width="1" height="14" fill="#000"/>
<rect x="1282" y="206" width="5" height="4" fill="#000"/>
<rect x="1283" y="207" width="3" height="2" fill="#fff"/>
</g>
<g stroke="#ff0000" stroke-width="3.1" fill="#ff0000" stroke-linecap="butt" shape-rendering="crispEdges">
<line x1="1149.5" y1="288" x2="1185.5" y2="434"/>
<polygon points="1180,432.5 1193.5,432.5 1187.5,442.5" stroke="none"/>
<line x1="1187.5" y1="441" x2="1315" y2="150"/>
<polygon points="1318.3,141.8 1309,150.2 1313.5,152 1317.4,155.2 1319.2,147" stroke="none"/>
</g>
<rect x="1256" y="230" width="51" height="10" fill="#00ff00"/>
</g>
<polygon points="1293,30 1302,30 1297.5,35" fill="#c0c0c0"/>
<rect x="1453" y="233" width="9" height="1" fill="#ff0000"/>
<rect x="1460.5" y="231.5" width="3" height="3" fill="#fff" stroke="#ff0000"/>
<rect x="1463.5" y="221.5" width="73" height="24" fill="#fff" stroke="#ff0000"/>
<text x="1500.3" y="242" font-family='"Liberation Sans", "Noto Sans CJK SC", sans-serif' font-size="22" fill="#ff0000" text-anchor="middle" textLength="69" lengthAdjust="spacingAndGlyphs">109.372</text>
<text x="1406.5" y="284.9" font-family='"Noto Serif CJK SC","Noto Sans CJK SC",serif' font-weight="600" font-size="30.5" fill="#00ff00" textLength="161" lengthAdjust="spacingAndGlyphs" style="text-shadow:1px 1px 0 #143814">多空转折点</text>
<rect x="3.5" y="29.5" width="1620" height="553" fill="none" stroke="#000" stroke-width="1"/>
<rect x="3.5" y="584.5" width="1620" height="170" fill="none" stroke="#000" stroke-width="1"/>
<rect x="3.5" y="756.5" width="1620" height="174" fill="none" stroke="#000" stroke-width="1"/>
<rect x="1624" y="51" width="2" height="1" fill="#000"/>
<text transform="translate(1629,55.3) scale(0.911,1)" font-family='"Liberation Sans", "Noto Sans CJK SC", sans-serif' font-size="10" fill="#000" stroke="#000" stroke-width=".12" text-anchor="start" >110.315</text>
<rect x="1624" y="84" width="2" height="1" fill="#000"/>
<text transform="translate(1629,88.3) scale(0.911,1)" font-family='"Liberation Sans", "Noto Sans CJK SC", sans-serif' font-size="10" fill="#000" stroke="#000" stroke-width=".12" text-anchor="start" >110.145</text>
<rect x="1624" y="117" width="2" height="1" fill="#000"/>
<text transform="translate(1629,121.3) scale(0.911,1)" font-family='"Liberation Sans", "Noto Sans CJK SC", sans-serif' font-size="10" fill="#000" stroke="#000" stroke-width=".12" text-anchor="start" >109.975</text>
<rect x="1624" y="150" width="2" height="1" fill="#000"/>
<text transform="translate(1629,154.3) scale(0.911,1)" font-family='"Liberation Sans", "Noto Sans CJK SC", sans-serif' font-size="10" fill="#000" stroke="#000" stroke-width=".12" text-anchor="start" >109.800</text>
<rect x="1624" y="183" width="2" height="1" fill="#000"/>
<text transform="translate(1629,187.3) scale(0.911,1)" font-family='"Liberation Sans", "Noto Sans CJK SC", sans-serif' font-size="10" fill="#000" stroke="#000" stroke-width=".12" text-anchor="start" >109.630</text>
<rect x="1624" y="216" width="2" height="1" fill="#000"/>
<text transform="translate(1629,220.3) scale(0.911,1)" font-family='"Liberation Sans", "Noto Sans CJK SC", sans-serif' font-size="10" fill="#000" stroke="#000" stroke-width=".12" text-anchor="start" >109.460</text>
<rect x="1624" y="249" width="2" height="1" fill="#000"/>
<text transform="translate(1629,253.3) scale(0.911,1)" font-family='"Liberation Sans", "Noto Sans CJK SC", sans-serif' font-size="10" fill="#000" stroke="#000" stroke-width=".12" text-anchor="start" >109.290</text>
<rect x="1624" y="282" width="2" height="1" fill="#000"/>
<text transform="translate(1629,286.3) scale(0.911,1)" font-family='"Liberation Sans", "Noto Sans CJK SC", sans-serif' font-size="10" fill="#000" stroke="#000" stroke-width=".12" text-anchor="start" >109.120</text>
<rect x="1624" y="315" width="2" height="1" fill="#000"/>
<text transform="translate(1629,319.3) scale(0.911,1)" font-family='"Liberation Sans", "Noto Sans CJK SC", sans-serif' font-size="10" fill="#000" stroke="#000" stroke-width=".12" text-anchor="start" >108.950</text>
<rect x="1624" y="348" width="2" height="1" fill="#000"/>
<text transform="translate(1629,352.3) scale(0.911,1)" font-family='"Liberation Sans", "Noto Sans CJK SC", sans-serif' font-size="10" fill="#000" stroke="#000" stroke-width=".12" text-anchor="start" >108.780</text>
<rect x="1624" y="381" width="2" height="1" fill="#000"/>
<text transform="translate(1629,385.3) scale(0.911,1)" font-family='"Liberation Sans", "Noto Sans CJK SC", sans-serif' font-size="10" fill="#000" stroke="#000" stroke-width=".12" text-anchor="start" >108.605</text>
<rect x="1624" y="414" width="2" height="1" fill="#000"/>
<text transform="translate(1629,418.3) scale(0.911,1)" font-family='"Liberation Sans", "Noto Sans CJK SC", sans-serif' font-size="10" fill="#000" stroke="#000" stroke-width=".12" text-anchor="start" >108.435</text>
<rect x="1624" y="447" width="2" height="1" fill="#000"/>
<text transform="translate(1629,451.3) scale(0.911,1)" font-family='"Liberation Sans", "Noto Sans CJK SC", sans-serif' font-size="10" fill="#000" stroke="#000" stroke-width=".12" text-anchor="start" >108.265</text>
<rect x="1624" y="480" width="2" height="1" fill="#000"/>
<text transform="translate(1629,484.3) scale(0.911,1)" font-family='"Liberation Sans", "Noto Sans CJK SC", sans-serif' font-size="10" fill="#000" stroke="#000" stroke-width=".12" text-anchor="start" >108.095</text>
<rect x="1624" y="513" width="2" height="1" fill="#000"/>
<text transform="translate(1629,517.3) scale(0.911,1)" font-family='"Liberation Sans", "Noto Sans CJK SC", sans-serif' font-size="10" fill="#000" stroke="#000" stroke-width=".12" text-anchor="start" >107.925</text>
<rect x="1624" y="546" width="2" height="1" fill="#000"/>
<text transform="translate(1629,550.3) scale(0.911,1)" font-family='"Liberation Sans", "Noto Sans CJK SC", sans-serif' font-size="10" fill="#000" stroke="#000" stroke-width=".12" text-anchor="start" >107.755</text>
<rect x="1624" y="579" width="2" height="1" fill="#000"/>
<text transform="translate(1629,583.3) scale(0.911,1)" font-family='"Liberation Sans", "Noto Sans CJK SC", sans-serif' font-size="10" fill="#000" stroke="#000" stroke-width=".12" text-anchor="start" >107.585</text>
<rect x="1625" y="139" width="41" height="11" fill="#ff0000"/>
<text transform="translate(1629,148) scale(0.911,1)" font-family='"Liberation Sans", "Noto Sans CJK SC", sans-serif' font-size="10" fill="#fff" stroke="#fff" stroke-width=".12" text-anchor="start" >109.826</text>
<rect x="1625" y="167" width="41" height="11" fill="#ff0000"/>
<text transform="translate(1629,176) scale(0.911,1)" font-family='"Liberation Sans", "Noto Sans CJK SC", sans-serif' font-size="10" fill="#fff" stroke="#fff" stroke-width=".12" text-anchor="start" >109.682</text>
<rect x="1625" y="201" width="41" height="11" fill="#000"/>
<text transform="translate(1629,210) scale(0.911,1)" font-family='"Liberation Sans", "Noto Sans CJK SC", sans-serif' font-size="10" fill="#fff" stroke="#fff" stroke-width=".12" text-anchor="start" >109.511</text>
<rect x="1625" y="227" width="41" height="11" fill="#32cd32"/>
<text transform="translate(1629,236) scale(0.911,1)" font-family='"Liberation Sans", "Noto Sans CJK SC", sans-serif' font-size="10" fill="#fff" stroke="#fff" stroke-width=".12" text-anchor="start" >109.372</text>
<rect x="1625" y="253" width="41" height="11" fill="#0000ff"/>
<text transform="translate(1629,262) scale(0.911,1)" font-family='"Liberation Sans", "Noto Sans CJK SC", sans-serif' font-size="10" fill="#fff" stroke="#fff" stroke-width=".12" text-anchor="start" >109.238</text>
<rect x="1625" y="279" width="41" height="11" fill="#0000ff"/>
<text transform="translate(1629,288) scale(0.911,1)" font-family='"Liberation Sans", "Noto Sans CJK SC", sans-serif' font-size="10" fill="#fff" stroke="#fff" stroke-width=".12" text-anchor="start" >109.103</text>
<rect x="1624" y="586" width="2" height="1" fill="#000"/>
<text transform="translate(1627,594.2) scale(0.911,1)" font-family='"Liberation Sans", "Noto Sans CJK SC", sans-serif' font-size="10" fill="#000" stroke="#000" stroke-width=".12" text-anchor="start" >0.3419</text>
<rect x="1624" y="671" width="2" height="1" fill="#000"/>
<text transform="translate(1627,675) scale(0.911,1)" font-family='"Liberation Sans", "Noto Sans CJK SC", sans-serif' font-size="10" fill="#000" stroke="#000" stroke-width=".12" text-anchor="start" >0.00</text>
<rect x="1624" y="753" width="2" height="1" fill="#000"/>
<text transform="translate(1627,751.2) scale(0.911,1)" font-family='"Liberation Sans", "Noto Sans CJK SC", sans-serif' font-size="10" fill="#000" stroke="#000" stroke-width=".12" text-anchor="start" >-0.3301</text>
<rect x="1624" y="758" width="2" height="1" fill="#000"/>
<text transform="translate(1627,767.2) scale(0.911,1)" font-family='"Liberation Sans", "Noto Sans CJK SC", sans-serif' font-size="10" fill="#000" stroke="#000" stroke-width=".12" text-anchor="start" >100</text>
<rect x="1624" y="792" width="2" height="1" fill="#000"/>
<text transform="translate(1627,796) scale(0.911,1)" font-family='"Liberation Sans", "Noto Sans CJK SC", sans-serif' font-size="10" fill="#000" stroke="#000" stroke-width=".12" text-anchor="start" >80</text>
<rect x="1624" y="843" width="2" height="1" fill="#000"/>
<text transform="translate(1627,847) scale(0.911,1)" font-family='"Liberation Sans", "Noto Sans CJK SC", sans-serif' font-size="10" fill="#000" stroke="#000" stroke-width=".12" text-anchor="start" >50</text>
<rect x="1624" y="904" width="2" height="1" fill="#000"/>
<text transform="translate(1627,908) scale(0.911,1)" font-family='"Liberation Sans", "Noto Sans CJK SC", sans-serif' font-size="10" fill="#000" stroke="#000" stroke-width=".12" text-anchor="start" >15</text>
<rect x="1624" y="929" width="2" height="1" fill="#000"/>
<text transform="translate(1627,927.2) scale(0.911,1)" font-family='"Liberation Sans", "Noto Sans CJK SC", sans-serif' font-size="10" fill="#000" stroke="#000" stroke-width=".12" text-anchor="start" >0</text>
<g clip-path="url(#c2)" shape-rendering="crispEdges">
<rect x="4" y="663" width="1" height="9" fill="#c0c0c0"/>
<rect x="12" y="663" width="1" height="9" fill="#c0c0c0"/>
<rect x="20" y="666" width="1" height="6" fill="#c0c0c0"/>
<rect x="28" y="667" width="1" height="5" fill="#c0c0c0"/>
<rect x="36" y="671" width="1" height="2" fill="#c0c0c0"/>
<rect x="44" y="671" width="1" height="8" fill="#c0c0c0"/>
<rect x="52" y="671" width="1" height="12" fill="#c0c0c0"/>
<rect x="60" y="671" width="1" height="18" fill="#c0c0c0"/>
<rect x="68" y="671" width="1" height="26" fill="#c0c0c0"/>
<rect x="76" y="671" width="1" height="32" fill="#c0c0c0"/>
<rect x="84" y="671" width="1" height="39" fill="#c0c0c0"/>
<rect x="92" y="671" width="1" height="45" fill="#c0c0c0"/>
<rect x="100" y="671" width="1" height="51" fill="#c0c0c0"/>
<rect x="108" y="671" width="1" height="53" fill="#c0c0c0"/>
<rect x="116" y="671" width="1" height="54" fill="#c0c0c0"/>
<rect x="124" y="671" width="1" height="56" fill="#c0c0c0"/>
<rect x="132" y="671" width="1" height="54" fill="#c0c0c0"/>
<rect x="140" y="671" width="1" height="52" fill="#c0c0c0"/>
<rect x="148" y="671" width="1" height="48" fill="#c0c0c0"/>
<rect x="156" y="671" width="1" height="45" fill="#c0c0c0"/>
<rect x="164" y="671" width="1" height="53" fill="#c0c0c0"/>
<rect x="172" y="671" width="1" height="53" fill="#c0c0c0"/>
<rect x="180" y="671" width="1" height="53" fill="#c0c0c0"/>
<rect x="188" y="671" width="1" height="57" fill="#c0c0c0"/>
<rect x="196" y="671" width="1" height="66" fill="#c0c0c0"/>
<rect x="204" y="671" width="1" height="69" fill="#c0c0c0"/>
<rect x="212" y="671" width="1" height="72" fill="#c0c0c0"/>
<rect x="220" y="671" width="1" height="74" fill="#c0c0c0"/>
<rect x="228" y="671" width="1" height="75" fill="#c0c0c0"/>
<rect x="236" y="671" width="1" height="73" fill="#c0c0c0"/>
<rect x="244" y="671" width="1" height="71" fill="#c0c0c0"/>
<rect x="252" y="671" width="1" height="69" fill="#c0c0c0"/>
<rect x="260" y="671" width="1" height="60" fill="#c0c0c0"/>
<rect x="268" y="671" width="1" height="51" fill="#c0c0c0"/>
<rect x="276" y="671" width="1" height="44" fill="#c0c0c0"/>
<rect x="284" y="671" width="1" height="37" fill="#c0c0c0"/>
<rect x="292" y="671" width="1" height="33" fill="#c0c0c0"/>
<rect x="300" y="671" width="1" height="29" fill="#c0c0c0"/>
<rect x="308" y="671" width="1" height="22" fill="#c0c0c0"/>
<rect x="316" y="671" width="1" height="16" fill="#c0c0c0"/>
<rect x="324" y="671" width="1" height="22" fill="#c0c0c0"/>
<rect x="332" y="671" width="1" height="20" fill="#c0c0c0"/>
<rect x="340" y="671" width="1" height="17" fill="#c0c0c0"/>
<rect x="348" y="671" width="1" height="8" fill="#c0c0c0"/>
<rect x="356" y="671" width="1" height="3" fill="#c0c0c0"/>
<rect x="364" y="659" width="1" height="13" fill="#c0c0c0"/>
<rect x="372" y="651" width="1" height="21" fill="#c0c0c0"/>
<rect x="380" y="641" width="1" height="31" fill="#c0c0c0"/>
<rect x="388" y="631" width="1" height="41" fill="#c0c0c0"/>
<rect x="396" y="621" width="1" height="51" fill="#c0c0c0"/>
<rect x="404" y="612" width="1" height="60" fill="#c0c0c0"/>
<rect x="412" y="607" width="1" height="65" fill="#c0c0c0"/>
<rect x="420" y="604" width="1" height="68" fill="#c0c0c0"/>
<rect x="428" y="601" width="1" height="71" fill="#c0c0c0"/>
<rect x="436" y="599" width="1" height="73" fill="#c0c0c0"/>
<rect x="444" y="597" width="1" height="75" fill="#c0c0c0"/>
<rect x="452" y="597" width="1" height="75" fill="#c0c0c0"/>
<rect x="460" y="600" width="1" height="72" fill="#c0c0c0"/>
<rect x="468" y="601" width="1" height="71" fill="#c0c0c0"/>
<rect x="476" y="602" width="1" height="70" fill="#c0c0c0"/>
<rect x="484" y="605" width="1" height="67" fill="#c0c0c0"/>
<rect x="492" y="601" width="1" height="71" fill="#c0c0c0"/>
<rect x="500" y="600" width="1" height="72" fill="#c0c0c0"/>
<rect x="508" y="598" width="1" height="74" fill="#c0c0c0"/>
<rect x="516" y="595" width="1" height="77" fill="#c0c0c0"/>
<rect x="524" y="594" width="1" height="78" fill="#c0c0c0"/>
<rect x="532" y="595" width="1" height="77" fill="#c0c0c0"/>
<rect x="540" y="597" width="1" height="75" fill="#c0c0c0"/>
<rect x="548" y="598" width="1" height="74" fill="#c0c0c0"/>
<rect x="556" y="601" width="1" height="71" fill="#c0c0c0"/>
<rect x="564" y="607" width="1" height="65" fill="#c0c0c0"/>
<rect x="572" y="610" width="1" height="62" fill="#c0c0c0"/>
<rect x="580" y="615" width="1" height="57" fill="#c0c0c0"/>
<rect x="588" y="620" width="1" height="52" fill="#c0c0c0"/>
<rect x="596" y="621" width="1" height="51" fill="#c0c0c0"/>
<rect x="604" y="624" width="1" height="48" fill="#c0c0c0"/>
<rect x="612" y="628" width="1" height="44" fill="#c0c0c0"/>
<rect x="620" y="630" width="1" height="42" fill="#c0c0c0"/>
<rect x="628" y="631" width="1" height="41" fill="#c0c0c0"/>
<rect x="636" y="634" width="1" height="38" fill="#c0c0c0"/>
<rect x="644" y="633" width="1" height="39" fill="#c0c0c0"/>
<rect x="652" y="633" width="1" height="39" fill="#c0c0c0"/>
<rect x="660" y="631" width="1" height="41" fill="#c0c0c0"/>
<rect x="668" y="631" width="1" height="41" fill="#c0c0c0"/>
<rect x="676" y="630" width="1" height="42" fill="#c0c0c0"/>
<rect x="684" y="632" width="1" height="40" fill="#c0c0c0"/>
<rect x="692" y="633" width="1" height="39" fill="#c0c0c0"/>
<rect x="700" y="634" width="1" height="38" fill="#c0c0c0"/>
<rect x="708" y="635" width="1" height="37" fill="#c0c0c0"/>
<rect x="716" y="637" width="1" height="35" fill="#c0c0c0"/>
<rect x="724" y="639" width="1" height="33" fill="#c0c0c0"/>
<rect x="732" y="641" width="1" height="31" fill="#c0c0c0"/>
<rect x="740" y="643" width="1" height="29" fill="#c0c0c0"/>
<rect x="748" y="644" width="1" height="28" fill="#c0c0c0"/>
<rect x="756" y="646" width="1" height="26" fill="#c0c0c0"/>
<rect x="764" y="651" width="1" height="21" fill="#c0c0c0"/>
<rect x="772" y="655" width="1" height="17" fill="#c0c0c0"/>
<rect x="780" y="658" width="1" height="14" fill="#c0c0c0"/>
<rect x="788" y="661" width="1" height="11" fill="#c0c0c0"/>
<rect x="796" y="668" width="1" height="4" fill="#c0c0c0"/>
<rect x="804" y="670" width="1" height="2" fill="#c0c0c0"/>
<rect x="812" y="669" width="1" height="3" fill="#c0c0c0"/>
<rect x="820" y="670" width="1" height="2" fill="#c0c0c0"/>
<rect x="828" y="670" width="1" height="2" fill="#c0c0c0"/>
<rect x="836" y="670" width="1" height="2" fill="#c0c0c0"/>
<rect x="844" y="671" width="1" height="3" fill="#c0c0c0"/>
<rect x="852" y="671" width="1" height="8" fill="#c0c0c0"/>
<rect x="860" y="671" width="1" height="14" fill="#c0c0c0"/>
<rect x="868" y="671" width="1" height="18" fill="#c0c0c0"/>
<rect x="876" y="671" width="1" height="22" fill="#c0c0c0"/>
<rect x="884" y="671" width="1" height="29" fill="#c0c0c0"/>
<rect x="892" y="671" width="1" height="31" fill="#c0c0c0"/>
<rect x="900" y="671" width="1" height="31" fill="#c0c0c0"/>
<rect x="908" y="671" width="1" height="33" fill="#c0c0c0"/>
<rect x="916" y="671" width="1" height="33" fill="#c0c0c0"/>
<rect x="924" y="671" width="1" height="32" fill="#c0c0c0"/>
<rect x="932" y="671" width="1" height="33" fill="#c0c0c0"/>
<rect x="940" y="671" width="1" height="37" fill="#c0c0c0"/>
<rect x="948" y="671" width="1" height="50" fill="#c0c0c0"/>
<rect x="956" y="671" width="1" height="54" fill="#c0c0c0"/>
<rect x="964" y="671" width="1" height="57" fill="#c0c0c0"/>
<rect x="972" y="671" width="1" height="60" fill="#c0c0c0"/>
<rect x="980" y="671" width="1" height="63" fill="#c0c0c0"/>
<rect x="988" y="671" width="1" height="64" fill="#c0c0c0"/>
<rect x="996" y="671" width="1" height="64" fill="#c0c0c0"/>
<rect x="1004" y="671" width="1" height="61" fill="#c0c0c0"/>
<rect x="1012" y="671" width="1" height="59" fill="#c0c0c0"/>
<rect x="1020" y="671" width="1" height="57" fill="#c0c0c0"/>
<rect x="1028" y="671" width="1" height="52" fill="#c0c0c0"/>
<rect x="1036" y="671" width="1" height="47" fill="#c0c0c0"/>
<rect x="1044" y="671" width="1" height="43" fill="#c0c0c0"/>
<rect x="1052" y="671" width="1" height="37" fill="#c0c0c0"/>
<rect x="1060" y="671" width="1" height="36" fill="#c0c0c0"/>
<rect x="1068" y="671" width="1" height="33" fill="#c0c0c0"/>
<rect x="1076" y="671" width="1" height="29" fill="#c0c0c0"/>
<rect x="1084" y="671" width="1" height="29" fill="#c0c0c0"/>
<rect x="1092" y="671" width="1" height="29" fill="#c0c0c0"/>
<rect x="1100" y="671" width="1" height="31" fill="#c0c0c0"/>
<rect x="1108" y="671" width="1" height="33" fill="#c0c0c0"/>
<rect x="1116" y="671" width="1" height="38" fill="#c0c0c0"/>
<rect x="1124" y="671" width="1" height="39" fill="#c0c0c0"/>
<rect x="1132" y="671" width="1" height="37" fill="#c0c0c0"/>
<rect x="1140" y="671" width="1" height="29" fill="#c0c0c0"/>
<rect x="1148" y="671" width="1" height="26" fill="#c0c0c0"/>
<rect x="1156" y="671" width="1" height="25" fill="#c0c0c0"/>
<rect x="1164" y="671" width="1" height="33" fill="#c0c0c0"/>
<rect x="1172" y="671" width="1" height="42" fill="#c0c0c0"/>
<rect x="1180" y="671" width="1" height="47" fill="#c0c0c0"/>
<rect x="1188" y="671" width="1" height="47" fill="#c0c0c0"/>
<rect x="1196" y="671" width="1" height="46" fill="#c0c0c0"/>
<rect x="1204" y="671" width="1" height="46" fill="#c0c0c0"/>
<rect x="1212" y="671" width="1" height="40" fill="#c0c0c0"/>
<rect x="1220" y="671" width="1" height="37" fill="#c0c0c0"/>
<rect x="1228" y="671" width="1" height="36" fill="#c0c0c0"/>
<rect x="1236" y="671" width="1" height="33" fill="#c0c0c0"/>
<rect x="1244" y="671" width="1" height="24" fill="#c0c0c0"/>
<rect x="1252" y="671" width="1" height="16" fill="#c0c0c0"/>
<rect x="1260" y="671" width="1" height="3" fill="#c0c0c0"/>
<rect x="1268" y="671" width="1" height="2" fill="#c0c0c0"/>
<rect x="1276" y="662" width="1" height="10" fill="#c0c0c0"/>
<rect x="1284" y="651" width="1" height="21" fill="#c0c0c0"/>
</g>
<path d="M542 597h3v1h-3zM548 597h3v1h-3zM554 597h3v1h-3zM560 597h3v1h-3zM525 598h2v1h-2zM530 598h3v1h-3zM536 598h3v1h-3zM566 598h3v1h-3zM512 599h3v1h-3zM518 599h3v1h-3zM524 599h1v1h-1zM572 599h2v1h-2zM488 600h3v1h-3zM494 600h3v1h-3zM500 600h3v1h-3zM506 600h3v1h-3zM574 600h1v1h-1zM470 601h3v1h-3zM476 601h3v1h-3zM482 601h3v1h-3zM578 601h3v1h-3zM464 602h3v1h-3zM584 602h2v1h-2zM459 603h2v1h-2zM586 603h1v1h-1zM458 604h1v1h-1zM590 604h2v1h-2zM454 605h1v1h-1zM592 605h1v1h-1zM453 606h1v1h-1zM596 606h2v1h-2zM452 607h1v1h-1zM598 607h1v1h-1zM602 608h1v1h-1zM448 609h1v1h-1zM603 609h2v1h-2zM447 610h1v1h-1zM446 611h1v1h-1zM608 611h1v1h-1zM609 612h2v1h-2zM442 614h1v1h-1zM614 614h1v1h-1zM441 615h1v1h-1zM615 615h2v1h-2zM440 616h1v1h-1zM620 617h2v1h-2zM622 618h1v1h-1zM436 619h1v1h-1zM626 619h1v1h-1zM435 620h1v1h-1zM627 620h2v1h-2zM434 621h1v1h-1zM632 622h3v1h-3zM429 624h2v1h-2zM638 624h3v1h-3zM428 625h1v1h-1zM644 625h1v1h-1zM645 626h2v1h-2zM650 627h3v1h-3zM656 628h1v1h-1zM424 629h1v1h-1zM657 629h2v1h-2zM662 629h3v1h-3zM423 630h1v1h-1zM668 630h3v1h-3zM674 630h3v1h-3zM422 631h1v1h-1zM680 631h3v1h-3zM686 631h3v1h-3zM692 631h3v1h-3zM698 631h3v1h-3zM704 631h3v1h-3zM710 631h3v1h-3zM716 632h3v1h-3zM722 632h2v1h-2zM724 633h1v1h-1zM728 633h3v1h-3zM734 634h3v1h-3zM419 635h1v1h-1zM740 635h3v1h-3zM418 636h1v1h-1zM746 636h2v1h-2zM417 637h1v1h-1zM748 637h1v1h-1zM752 638h3v1h-3zM758 639h2v1h-2zM760 640h1v1h-1zM413 641h1v1h-1zM764 641h3v1h-3zM412 642h1v1h-1zM770 642h1v1h-1zM411 643h1v1h-1zM771 643h2v1h-2zM776 644h3v1h-3zM782 646h2v1h-2zM407 647h1v1h-1zM784 647h1v1h-1zM406 648h1v1h-1zM788 648h2v1h-2zM405 649h1v1h-1zM790 649h1v1h-1zM794 650h1v1h-1zM795 651h2v1h-2zM402 653h1v1h-1zM800 653h2v1h-2zM401 654h1v1h-1zM802 654h1v1h-1zM400 655h1v1h-1zM806 655h1v1h-1zM807 656h2v1h-2zM812 658h2v1h-2zM396 659h1v1h-1zM814 659h1v1h-1zM395 660h1v1h-1zM818 660h2v1h-2zM394 661h1v1h-1zM820 661h1v1h-1zM824 662h3v1h-3zM4 663h3v1h-3zM10 663h3v1h-3zM16 663h3v1h-3zM22 663h3v1h-3zM28 663h3v1h-3zM34 663h3v1h-3zM40 664h2v1h-2zM830 664h3v1h-3zM42 665h1v1h-1zM390 665h1v1h-1zM46 666h3v1h-3zM389 666h1v1h-1zM836 666h3v1h-3zM388 667h1v1h-1zM52 668h3v1h-3zM842 668h3v1h-3zM58 670h1v1h-1zM384 670h1v1h-1zM848 670h3v1h-3zM59 671h2v1h-2zM383 671h1v1h-1zM382 672h1v1h-1zM854 672h3v1h-3zM64 673h2v1h-2zM860 673h1v1h-1zM66 674h1v1h-1zM861 674h2v1h-2zM866 675h3v1h-3zM70 676h2v1h-2zM377 676h2v1h-2zM872 676h1v1h-1zM72 677h1v1h-1zM376 677h1v1h-1zM873 677h2v1h-2zM878 679h3v1h-3zM76 680h2v1h-2zM372 680h1v1h-1zM78 681h1v1h-1zM370 681h2v1h-2zM884 681h2v1h-2zM886 682h1v1h-1zM82 684h2v1h-2zM366 684h1v1h-1zM890 684h2v1h-2zM84 685h1v1h-1zM365 685h1v1h-1zM892 685h1v1h-1zM364 686h1v1h-1zM896 686h1v1h-1zM897 687h2v1h-2zM88 688h1v1h-1zM89 689h1v1h-1zM359 689h2v1h-2zM902 689h1v1h-1zM90 690h1v1h-1zM358 690h1v1h-1zM903 690h2v1h-2zM353 692h2v1h-2zM908 692h1v1h-1zM1282 692h1v1h-1zM94 693h2v1h-2zM352 693h1v1h-1zM909 693h2v1h-2zM1280 693h2v1h-2zM96 694h1v1h-1zM347 695h2v1h-2zM914 695h1v1h-1zM346 696h1v1h-1zM915 696h2v1h-2zM1276 696h1v1h-1zM100 697h1v1h-1zM920 697h3v1h-3zM1275 697h1v1h-1zM101 698h2v1h-2zM341 698h2v1h-2zM926 698h1v1h-1zM1274 698h1v1h-1zM340 699h1v1h-1zM927 699h2v1h-2zM932 700h2v1h-2zM106 701h1v1h-1zM335 701h2v1h-2zM934 701h1v1h-1zM1270 701h1v1h-1zM107 702h1v1h-1zM334 702h1v1h-1zM938 702h3v1h-3zM1268 702h2v1h-2zM108 703h1v1h-1zM1112 703h3v1h-3zM1118 703h3v1h-3zM1124 703h3v1h-3zM1149 703h2v1h-2zM1154 703h3v1h-3zM1160 703h3v1h-3zM1166 703h3v1h-3zM1172 703h3v1h-3zM329 704h2v1h-2zM944 704h2v1h-2zM1106 704h3v1h-3zM1130 704h3v1h-3zM1136 704h3v1h-3zM1142 704h3v1h-3zM1148 704h1v1h-1zM1178 704h3v1h-3zM112 705h1v1h-1zM328 705h1v1h-1zM946 705h1v1h-1zM1100 705h3v1h-3zM1184 705h2v1h-2zM1263 705h2v1h-2zM113 706h1v1h-1zM950 706h2v1h-2zM1096 706h1v1h-1zM1186 706h1v1h-1zM1262 706h1v1h-1zM114 707h1v1h-1zM323 707h2v1h-2zM952 707h1v1h-1zM1094 707h2v1h-2zM1190 707h3v1h-3zM1196 707h3v1h-3zM1202 707h3v1h-3zM1208 707h3v1h-3zM322 708h1v1h-1zM956 708h1v1h-1zM1214 708h1v1h-1zM1257 708h2v1h-2zM118 709h1v1h-1zM957 709h2v1h-2zM1088 709h3v1h-3zM1215 709h2v1h-2zM1256 709h1v1h-1zM119 710h2v1h-2zM317 710h2v1h-2zM962 710h2v1h-2zM1220 710h3v1h-3zM1250 710h3v1h-3zM316 711h1v1h-1zM964 711h1v1h-1zM1083 711h2v1h-2zM1226 711h3v1h-3zM968 712h2v1h-2zM1082 712h1v1h-1zM1232 712h3v1h-3zM1238 712h3v1h-3zM1244 712h3v1h-3zM124 713h2v1h-2zM970 713h1v1h-1zM1078 713h1v1h-1zM126 714h1v1h-1zM312 714h1v1h-1zM1076 714h2v1h-2zM311 715h1v1h-1zM974 715h2v1h-2zM130 716h2v1h-2zM310 716h1v1h-1zM976 716h1v1h-1zM1071 716h2v1h-2zM132 717h1v1h-1zM1070 717h1v1h-1zM136 718h2v1h-2zM980 718h3v1h-3zM138 719h1v1h-1zM306 719h1v1h-1zM1065 719h2v1h-2zM142 720h3v1h-3zM305 720h1v1h-1zM986 720h2v1h-2zM1064 720h1v1h-1zM148 721h3v1h-3zM304 721h1v1h-1zM988 721h1v1h-1zM154 722h3v1h-3zM992 722h1v1h-1zM1059 722h2v1h-2zM160 723h3v1h-3zM166 723h3v1h-3zM172 723h3v1h-3zM178 723h3v1h-3zM993 723h2v1h-2zM1058 723h1v1h-1zM184 724h3v1h-3zM190 724h3v1h-3zM196 724h3v1h-3zM299 724h2v1h-2zM1054 724h1v1h-1zM298 725h1v1h-1zM998 725h2v1h-2zM1052 725h2v1h-2zM202 726h3v1h-3zM1000 726h1v1h-1zM1048 726h1v1h-1zM208 727h1v1h-1zM293 727h2v1h-2zM1046 727h2v1h-2zM209 728h2v1h-2zM292 728h1v1h-1zM1004 728h3v1h-3zM1041 728h2v1h-2zM214 729h3v1h-3zM1010 729h2v1h-2zM1034 729h3v1h-3zM1040 729h1v1h-1zM287 730h2v1h-2zM1012 730h1v1h-1zM1024 730h1v1h-1zM1028 730h3v1h-3zM220 731h2v1h-2zM286 731h1v1h-1zM1016 731h3v1h-3zM1022 731h2v1h-2zM222 732h1v1h-1zM281 733h2v1h-2zM226 734h2v1h-2zM280 734h1v1h-1zM228 735h1v1h-1zM232 736h3v1h-3zM276 736h1v1h-1zM238 737h3v1h-3zM274 737h2v1h-2zM244 738h3v1h-3zM250 739h2v1h-2zM268 739h3v1h-3zM252 740h1v1h-1zM262 740h3v1h-3zM256 741h3v1h-3z" fill="#ff0000" shape-rendering="crispEdges" clip-path="url(#c2)"/>
<text transform="translate(8.5,596.8) scale(0.938,1)" font-family='"Liberation Sans", "Noto Sans CJK SC", sans-serif' font-size="10" fill="#000" stroke="#000" stroke-width=".12" text-anchor="start" >MACD(12,26,9) 0.0819 -0.0706</text>
<line x1="4" y1="792.5" x2="1623" y2="792.5" stroke="#c0c0c0" stroke-width="1" stroke-dasharray="3 3" shape-rendering="crispEdges"/>
<line x1="4" y1="843.5" x2="1623" y2="843.5" stroke="#c0c0c0" stroke-width="1" stroke-dasharray="3 3" shape-rendering="crispEdges"/>
<line x1="4" y1="904.5" x2="1623" y2="904.5" stroke="#c0c0c0" stroke-width="1" stroke-dasharray="3 3" shape-rendering="crispEdges"/>
<path d="M5 839h1v2h-1zM8 835h1v2h-1zM11 831h1v2h-1zM12 830h1v2h-1zM13 832h1v2h-1zM14 834h1v3h-1zM15 837h1v3h-1zM16 840h1v2h-1zM17 842h1v3h-1zM18 845h1v3h-1zM19 848h1v2h-1zM20 850h1v2h-1zM28 847h1v2h-1zM29 849h1v3h-1zM30 852h1v2h-1zM31 854h1v3h-1zM32 857h1v3h-1zM33 860h1v3h-1zM34 863h1v2h-1zM35 865h1v3h-1zM36 868h1v2h-1zM64 881h1v2h-1zM101 890h1v2h-1zM104 886h1v2h-1zM107 882h1v2h-1zM125 882h1v2h-1zM126 880h1v2h-1zM127 878h1v2h-1zM129 875h1v2h-1zM130 873h1v2h-1zM131 871h1v2h-1zM156 863h1v2h-1zM157 865h1v3h-1zM158 868h1v3h-1zM159 871h1v3h-1zM160 874h1v3h-1zM161 877h1v3h-1zM162 880h1v3h-1zM163 883h1v3h-1zM164 886h1v2h-1zM165 883h1v3h-1zM166 880h1v3h-1zM167 877h1v3h-1zM168 875h1v2h-1zM169 872h1v3h-1zM170 869h1v3h-1zM171 866h1v3h-1zM172 864h1v2h-1zM181 865h1v2h-1zM182 867h1v2h-1zM183 869h1v2h-1zM185 872h1v2h-1zM186 874h1v2h-1zM187 876h1v2h-1zM252 870h1v2h-1zM253 868h1v2h-1zM254 866h1v2h-1zM255 863h1v3h-1zM256 861h1v2h-1zM257 858h1v3h-1zM258 856h1v2h-1zM259 854h1v2h-1zM260 852h1v2h-1zM301 844h1v2h-1zM304 840h1v2h-1zM307 836h1v2h-1zM316 839h1v2h-1zM317 841h1v3h-1zM318 844h1v3h-1zM319 847h1v3h-1zM320 850h1v4h-1zM321 854h1v3h-1zM322 857h1v3h-1zM323 860h1v3h-1zM324 863h1v2h-1zM325 861h1v2h-1zM326 859h1v2h-1zM327 857h1v2h-1zM328 854h1v3h-1zM329 852h1v2h-1zM330 850h1v2h-1zM331 848h1v2h-1zM332 846h1v2h-1zM341 842h1v2h-1zM343 839h1v2h-1zM345 836h1v2h-1zM347 833h1v2h-1zM356 836h1v2h-1zM357 834h1v2h-1zM358 832h1v2h-1zM359 829h1v3h-1zM360 827h1v2h-1zM361 824h1v3h-1zM362 822h1v2h-1zM363 820h1v2h-1zM364 818h1v2h-1zM526 801h1v2h-1zM530 806h1v2h-1zM557 813h1v2h-1zM558 815h1v2h-1zM560 818h1v2h-1zM562 821h1v2h-1zM563 823h1v2h-1zM638 821h1v2h-1zM642 816h1v2h-1zM680 813h1v2h-1zM718 818h1v2h-1zM722 823h1v2h-1zM756 823h1v2h-1zM757 825h1v4h-1zM758 829h1v3h-1zM759 832h1v3h-1zM760 835h1v4h-1zM761 839h1v3h-1zM762 842h1v3h-1zM763 845h1v4h-1zM764 849h1v2h-1zM776 844h1v2h-1zM781 841h1v2h-1zM782 843h1v2h-1zM783 845h1v2h-1zM784 847h1v2h-1zM785 849h1v2h-1zM786 851h1v2h-1zM787 853h1v2h-1zM790 857h1v2h-1zM794 862h1v2h-1zM797 863h1v2h-1zM798 861h1v2h-1zM799 859h1v2h-1zM801 856h1v2h-1zM802 854h1v2h-1zM803 852h1v2h-1zM806 848h1v2h-1zM810 843h1v2h-1zM845 855h1v2h-1zM848 859h1v2h-1zM851 863h1v2h-1zM877 871h1v2h-1zM878 873h1v2h-1zM879 875h1v2h-1zM881 878h1v2h-1zM882 880h1v2h-1zM883 882h1v2h-1zM885 882h1v2h-1zM886 880h1v2h-1zM887 878h1v2h-1zM888 876h1v2h-1zM889 874h1v2h-1zM890 872h1v2h-1zM891 870h1v2h-1zM892 868h1v2h-1zM926 858h1v2h-1zM930 863h1v2h-1zM934 868h1v2h-1zM938 873h1v2h-1zM941 877h1v2h-1zM942 879h1v2h-1zM943 881h1v2h-1zM945 884h1v2h-1zM946 886h1v2h-1zM947 888h1v2h-1zM948 889h1v2h-1zM949 887h1v2h-1zM950 885h1v2h-1zM951 883h1v2h-1zM952 880h1v3h-1zM953 878h1v2h-1zM954 876h1v2h-1zM955 874h1v2h-1zM956 872h1v2h-1zM1016 865h1v2h-1zM1020 869h1v2h-1zM1021 867h1v2h-1zM1022 865h1v2h-1zM1023 863h1v2h-1zM1024 861h1v2h-1zM1025 859h1v2h-1zM1026 857h1v2h-1zM1027 855h1v2h-1zM1028 853h1v2h-1zM1117 865h1v2h-1zM1120 869h1v2h-1zM1123 873h1v2h-1zM1128 870h1v2h-1zM1136 861h1v2h-1zM1141 855h1v2h-1zM1142 853h1v2h-1zM1143 851h1v2h-1zM1145 848h1v2h-1zM1146 846h1v2h-1zM1147 844h1v2h-1zM1164 853h1v2h-1zM1165 855h1v3h-1zM1166 858h1v2h-1zM1167 860h1v3h-1zM1168 863h1v3h-1zM1169 866h1v3h-1zM1170 869h1v2h-1zM1171 871h1v3h-1zM1172 874h1v2h-1zM1189 872h1v2h-1zM1192 868h1v2h-1zM1195 864h1v2h-1zM1213 860h1v2h-1zM1216 856h1v2h-1zM1219 852h1v2h-1zM1245 848h1v2h-1zM1246 846h1v2h-1zM1247 844h1v2h-1zM1249 841h1v2h-1zM1250 839h1v2h-1zM1251 837h1v2h-1zM1261 830h1v2h-1zM1262 828h1v2h-1zM1264 825h1v2h-1zM1266 822h1v2h-1zM1267 820h1v2h-1zM522 799h3v1h-3zM518 800h4v1h-4zM525 800h1v1h-1zM515 801h3v1h-3zM512 802h3v1h-3zM510 803h2v1h-2zM527 803h1v1h-1zM504 804h6v1h-6zM528 804h1v1h-1zM498 805h6v1h-6zM529 805h1v1h-1zM494 806h4v1h-4zM547 806h2v1h-2zM492 807h2v1h-2zM544 807h3v1h-3zM549 807h1v1h-1zM491 808h1v1h-1zM531 808h1v1h-1zM542 808h2v1h-2zM550 808h2v1h-2zM490 809h1v1h-1zM532 809h10v1h-10zM552 809h1v1h-1zM666 809h11v1h-11zM489 810h1v1h-1zM553 810h1v1h-1zM662 810h4v1h-4zM677 810h1v1h-1zM488 811h1v1h-1zM554 811h2v1h-2zM659 811h3v1h-3zM678 811h1v1h-1zM442 812h3v1h-3zM487 812h1v1h-1zM556 812h1v1h-1zM656 812h3v1h-3zM679 812h1v1h-1zM438 813h4v1h-4zM445 813h2v1h-2zM486 813h1v1h-1zM654 813h2v1h-2zM1280 813h5v1h-5zM402 814h6v1h-6zM432 814h6v1h-6zM447 814h2v1h-2zM485 814h1v1h-1zM644 814h10v1h-10zM1276 814h4v1h-4zM398 815h4v1h-4zM408 815h8v1h-8zM424 815h8v1h-8zM449 815h2v1h-2zM475 815h10v1h-10zM643 815h1v1h-1zM681 815h1v1h-1zM1274 815h2v1h-2zM394 816h4v1h-4zM416 816h8v1h-8zM451 816h3v1h-3zM472 816h3v1h-3zM682 816h1v1h-1zM707 816h10v1h-10zM1272 816h2v1h-2zM390 817h4v1h-4zM454 817h2v1h-2zM470 817h2v1h-2zM559 817h1v1h-1zM683 817h1v1h-1zM688 817h6v1h-6zM704 817h3v1h-3zM717 817h1v1h-1zM1271 817h1v1h-1zM387 818h3v1h-3zM456 818h3v1h-3zM464 818h6v1h-6zM641 818h1v1h-1zM684 818h4v1h-4zM694 818h4v1h-4zM702 818h2v1h-2zM1269 818h2v1h-2zM365 819h1v1h-1zM385 819h2v1h-2zM459 819h5v1h-5zM640 819h1v1h-1zM698 819h4v1h-4zM1268 819h1v1h-1zM366 820h1v1h-1zM383 820h2v1h-2zM561 820h1v1h-1zM596 820h1v1h-1zM639 820h1v1h-1zM719 820h1v1h-1zM732 820h1v1h-1zM367 821h1v1h-1zM381 821h2v1h-2zM576 821h5v1h-5zM595 821h1v1h-1zM597 821h1v1h-1zM720 821h1v1h-1zM730 821h2v1h-2zM733 821h2v1h-2zM368 822h1v1h-1zM379 822h2v1h-2zM571 822h5v1h-5zM581 822h1v1h-1zM594 822h1v1h-1zM598 822h2v1h-2zM721 822h1v1h-1zM729 822h1v1h-1zM735 822h1v1h-1zM369 823h1v1h-1zM377 823h2v1h-2zM568 823h3v1h-3zM582 823h1v1h-1zM593 823h1v1h-1zM600 823h1v1h-1zM637 823h1v1h-1zM728 823h1v1h-1zM736 823h2v1h-2zM754 823h2v1h-2zM370 824h1v1h-1zM375 824h2v1h-2zM566 824h2v1h-2zM583 824h1v1h-1zM592 824h1v1h-1zM601 824h1v1h-1zM626 824h11v1h-11zM726 824h2v1h-2zM738 824h2v1h-2zM750 824h4v1h-4zM1265 824h1v1h-1zM371 825h1v1h-1zM373 825h2v1h-2zM564 825h2v1h-2zM584 825h2v1h-2zM591 825h1v1h-1zM602 825h2v1h-2zM622 825h4v1h-4zM723 825h1v1h-1zM725 825h1v1h-1zM740 825h10v1h-10zM372 826h1v1h-1zM586 826h1v1h-1zM590 826h1v1h-1zM604 826h2v1h-2zM619 826h3v1h-3zM724 826h1v1h-1zM587 827h1v1h-1zM589 827h1v1h-1zM606 827h2v1h-2zM616 827h3v1h-3zM1263 827h1v1h-1zM588 828h1v1h-1zM608 828h3v1h-3zM614 828h2v1h-2zM611 829h3v1h-3zM348 832h1v1h-1zM1259 832h2v1h-2zM10 833h1v1h-1zM349 833h2v1h-2zM1257 833h2v1h-2zM9 834h1v1h-1zM351 834h1v1h-1zM1255 834h2v1h-2zM308 835h1v1h-1zM346 835h1v1h-1zM352 835h2v1h-2zM1253 835h2v1h-2zM309 836h2v1h-2zM354 836h2v1h-2zM1252 836h1v1h-1zM7 837h1v1h-1zM311 837h2v1h-2zM6 838h1v1h-1zM306 838h1v1h-1zM313 838h2v1h-2zM344 838h1v1h-1zM305 839h1v1h-1zM315 839h1v1h-1zM780 840h1v1h-1zM4 841h1v1h-1zM342 841h1v1h-1zM779 841h1v1h-1zM812 841h2v1h-2zM303 842h1v1h-1zM778 842h1v1h-1zM811 842h1v1h-1zM814 842h4v1h-4zM283 843h2v1h-2zM302 843h1v1h-1zM777 843h1v1h-1zM818 843h6v1h-6zM1148 843h2v1h-2zM1248 843h1v1h-1zM268 844h2v1h-2zM280 844h3v1h-3zM285 844h1v1h-1zM338 844h3v1h-3zM824 844h5v1h-5zM1150 844h4v1h-4zM267 845h1v1h-1zM270 845h4v1h-4zM278 845h2v1h-2zM286 845h1v1h-1zM334 845h4v1h-4zM809 845h1v1h-1zM829 845h1v1h-1zM1154 845h3v1h-3zM266 846h1v1h-1zM274 846h4v1h-4zM287 846h1v1h-1zM300 846h1v1h-1zM333 846h1v1h-1zM775 846h1v1h-1zM808 846h1v1h-1zM830 846h1v1h-1zM1157 846h1v1h-1zM27 847h1v1h-1zM265 847h1v1h-1zM288 847h1v1h-1zM298 847h2v1h-2zM774 847h1v1h-1zM807 847h1v1h-1zM831 847h1v1h-1zM1158 847h1v1h-1zM25 848h2v1h-2zM264 848h1v1h-1zM289 848h1v1h-1zM296 848h2v1h-2zM773 848h1v1h-1zM832 848h1v1h-1zM1052 848h1v1h-1zM1159 848h1v1h-1zM23 849h2v1h-2zM263 849h1v1h-1zM290 849h1v1h-1zM295 849h1v1h-1zM768 849h5v1h-5zM833 849h1v1h-1zM1050 849h2v1h-2zM1053 849h1v1h-1zM1160 849h1v1h-1zM21 850h2v1h-2zM262 850h1v1h-1zM291 850h1v1h-1zM293 850h2v1h-2zM765 850h3v1h-3zM805 850h1v1h-1zM834 850h1v1h-1zM1048 850h2v1h-2zM1054 850h2v1h-2zM1076 850h1v1h-1zM1144 850h1v1h-1zM1161 850h1v1h-1zM1244 850h1v1h-1zM261 851h1v1h-1zM292 851h1v1h-1zM804 851h1v1h-1zM835 851h1v1h-1zM1047 851h1v1h-1zM1056 851h1v1h-1zM1074 851h2v1h-2zM1077 851h1v1h-1zM1162 851h1v1h-1zM1220 851h4v1h-4zM1242 851h2v1h-2zM836 852h2v1h-2zM1045 852h2v1h-2zM1057 852h1v1h-1zM1072 852h2v1h-2zM1078 852h1v1h-1zM1163 852h1v1h-1zM1224 852h6v1h-6zM1240 852h2v1h-2zM838 853h4v1h-4zM1029 853h16v1h-16zM1058 853h2v1h-2zM1071 853h1v1h-1zM1079 853h1v1h-1zM1230 853h2v1h-2zM1239 853h1v1h-1zM842 854h3v1h-3zM1060 854h4v1h-4zM1069 854h2v1h-2zM1080 854h2v1h-2zM1218 854h1v1h-1zM1232 854h3v1h-3zM1237 854h2v1h-2zM788 855h1v1h-1zM1064 855h5v1h-5zM1082 855h1v1h-1zM1217 855h1v1h-1zM1235 855h2v1h-2zM789 856h1v1h-1zM924 856h1v1h-1zM1083 856h1v1h-1zM846 857h1v1h-1zM923 857h1v1h-1zM925 857h1v1h-1zM1084 857h1v1h-1zM1140 857h1v1h-1zM800 858h1v1h-1zM847 858h1v1h-1zM922 858h1v1h-1zM1085 858h2v1h-2zM1139 858h1v1h-1zM1204 858h1v1h-1zM1215 858h1v1h-1zM791 859h1v1h-1zM920 859h2v1h-2zM1087 859h2v1h-2zM1138 859h1v1h-1zM1202 859h2v1h-2zM1205 859h2v1h-2zM1214 859h1v1h-1zM792 860h1v1h-1zM919 860h1v1h-1zM927 860h1v1h-1zM1089 860h2v1h-2zM1137 860h1v1h-1zM1200 860h2v1h-2zM1207 860h2v1h-2zM793 861h1v1h-1zM849 861h1v1h-1zM918 861h1v1h-1zM928 861h1v1h-1zM1012 861h1v1h-1zM1091 861h2v1h-2zM1199 861h1v1h-1zM1209 861h2v1h-2zM148 862h4v1h-4zM850 862h1v1h-1zM917 862h1v1h-1zM929 862h1v1h-1zM1011 862h1v1h-1zM1013 862h1v1h-1zM1093 862h2v1h-2zM1197 862h2v1h-2zM1211 862h2v1h-2zM147 863h1v1h-1zM152 863h4v1h-4zM900 863h1v1h-1zM916 863h1v1h-1zM1010 863h1v1h-1zM1014 863h1v1h-1zM1095 863h1v1h-1zM1135 863h1v1h-1zM1196 863h1v1h-1zM146 864h1v1h-1zM173 864h8v1h-8zM795 864h1v1h-1zM898 864h2v1h-2zM901 864h1v1h-1zM914 864h2v1h-2zM1008 864h2v1h-2zM1015 864h1v1h-1zM1096 864h2v1h-2zM1115 864h2v1h-2zM1134 864h1v1h-1zM145 865h1v1h-1zM796 865h1v1h-1zM852 865h1v1h-1zM896 865h2v1h-2zM902 865h2v1h-2zM913 865h1v1h-1zM931 865h1v1h-1zM1007 865h1v1h-1zM1098 865h2v1h-2zM1113 865h2v1h-2zM1133 865h1v1h-1zM144 866h1v1h-1zM853 866h1v1h-1zM895 866h1v1h-1zM904 866h1v1h-1zM912 866h1v1h-1zM932 866h1v1h-1zM1006 866h1v1h-1zM1100 866h2v1h-2zM1111 866h2v1h-2zM1132 866h1v1h-1zM1194 866h1v1h-1zM143 867h1v1h-1zM854 867h1v1h-1zM893 867h2v1h-2zM905 867h1v1h-1zM910 867h2v1h-2zM933 867h1v1h-1zM1005 867h1v1h-1zM1017 867h1v1h-1zM1102 867h4v1h-4zM1109 867h2v1h-2zM1118 867h1v1h-1zM1131 867h1v1h-1zM1193 867h1v1h-1zM142 868h1v1h-1zM855 868h1v1h-1zM906 868h2v1h-2zM909 868h1v1h-1zM1004 868h1v1h-1zM1018 868h1v1h-1zM1106 868h3v1h-3zM1119 868h1v1h-1zM1130 868h1v1h-1zM37 869h3v1h-3zM48 869h5v1h-5zM141 869h1v1h-1zM243 869h3v1h-3zM856 869h1v1h-1zM908 869h1v1h-1zM1002 869h2v1h-2zM1019 869h1v1h-1zM1129 869h1v1h-1zM40 870h8v1h-8zM53 870h1v1h-1zM132 870h9v1h-9zM240 870h3v1h-3zM246 870h4v1h-4zM857 870h1v1h-1zM875 870h2v1h-2zM935 870h1v1h-1zM1001 870h1v1h-1zM1191 870h1v1h-1zM54 871h1v1h-1zM184 871h1v1h-1zM238 871h2v1h-2zM250 871h2v1h-2zM858 871h1v1h-1zM872 871h3v1h-3zM936 871h1v1h-1zM960 871h5v1h-5zM1000 871h1v1h-1zM1121 871h1v1h-1zM1190 871h1v1h-1zM55 872h1v1h-1zM236 872h2v1h-2zM859 872h1v1h-1zM870 872h2v1h-2zM937 872h1v1h-1zM957 872h3v1h-3zM965 872h2v1h-2zM998 872h2v1h-2zM1122 872h1v1h-1zM1127 872h1v1h-1zM56 873h1v1h-1zM235 873h1v1h-1zM860 873h10v1h-10zM967 873h1v1h-1zM997 873h1v1h-1zM1126 873h1v1h-1zM57 874h1v1h-1zM234 874h1v1h-1zM968 874h2v1h-2zM992 874h5v1h-5zM1125 874h1v1h-1zM1187 874h2v1h-2zM58 875h1v1h-1zM233 875h1v1h-1zM939 875h1v1h-1zM970 875h2v1h-2zM984 875h8v1h-8zM1124 875h1v1h-1zM1173 875h1v1h-1zM1185 875h2v1h-2zM59 876h1v1h-1zM232 876h1v1h-1zM940 876h1v1h-1zM972 876h12v1h-12zM1174 876h2v1h-2zM1183 876h2v1h-2zM60 877h1v1h-1zM128 877h1v1h-1zM231 877h1v1h-1zM880 877h1v1h-1zM1176 877h3v1h-3zM1181 877h2v1h-2zM61 878h1v1h-1zM188 878h1v1h-1zM204 878h12v1h-12zM230 878h1v1h-1zM1179 878h2v1h-2zM62 879h1v1h-1zM189 879h1v1h-1zM203 879h1v1h-1zM216 879h8v1h-8zM229 879h1v1h-1zM63 880h1v1h-1zM190 880h1v1h-1zM202 880h1v1h-1zM224 880h5v1h-5zM76 881h1v1h-1zM108 881h4v1h-4zM191 881h1v1h-1zM200 881h2v1h-2zM74 882h2v1h-2zM77 882h1v1h-1zM112 882h6v1h-6zM192 882h2v1h-2zM199 882h1v1h-1zM65 883h1v1h-1zM72 883h2v1h-2zM78 883h1v1h-1zM118 883h4v1h-4zM194 883h1v1h-1zM198 883h1v1h-1zM944 883h1v1h-1zM66 884h1v1h-1zM71 884h1v1h-1zM79 884h1v1h-1zM106 884h1v1h-1zM122 884h3v1h-3zM195 884h1v1h-1zM197 884h1v1h-1zM884 884h1v1h-1zM67 885h1v1h-1zM69 885h2v1h-2zM80 885h2v1h-2zM105 885h1v1h-1zM196 885h1v1h-1zM68 886h1v1h-1zM82 886h1v1h-1zM83 887h1v1h-1zM84 888h4v1h-4zM103 888h1v1h-1zM88 889h6v1h-6zM102 889h1v1h-1zM94 890h2v1h-2zM96 891h3v1h-3zM99 892h2v1h-2z" fill="#1e90ff" shape-rendering="crispEdges" clip-path="url(#c3)"/>
<text transform="translate(8.5,768.8) scale(0.938,1)" font-family='"Liberation Sans", "Noto Sans CJK SC", sans-serif' font-size="10" fill="#000" stroke="#000" stroke-width=".12" text-anchor="start" >RSI(14) 67.5514</text>
<rect x="4" y="931" width="1" height="3" fill="#000"/>
<text transform="translate(3,943.4) scale(0.93,1)" font-family='"Liberation Sans", "Noto Sans CJK SC", sans-serif' font-size="10" fill="#000" stroke="#000" stroke-width=".12" text-anchor="start" >27 Dec 2019</text>
<rect x="68" y="931" width="1" height="3" fill="#000"/>
<text transform="translate(67,943.4) scale(0.93,1)" font-family='"Liberation Sans", "Noto Sans CJK SC", sans-serif' font-size="10" fill="#000" stroke="#000" stroke-width=".12" text-anchor="start" >30 Dec 16:00</text>
<rect x="132" y="931" width="1" height="3" fill="#000"/>
<text transform="translate(131,943.4) scale(0.93,1)" font-family='"Liberation Sans", "Noto Sans CJK SC", sans-serif' font-size="10" fill="#000" stroke="#000" stroke-width=".12" text-anchor="start" >1 Jan 23:00</text>
<rect x="196" y="931" width="1" height="3" fill="#000"/>
<text transform="translate(195,943.4) scale(0.93,1)" font-family='"Liberation Sans", "Noto Sans CJK SC", sans-serif' font-size="10" fill="#000" stroke="#000" stroke-width=".12" text-anchor="start" >3 Jan 04:00</text>
<rect x="260" y="931" width="1" height="3" fill="#000"/>
<text transform="translate(259,943.4) scale(0.93,1)" font-family='"Liberation Sans", "Noto Sans CJK SC", sans-serif' font-size="10" fill="#000" stroke="#000" stroke-width=".12" text-anchor="start" >6 Jan 12:00</text>
<rect x="324" y="931" width="1" height="3" fill="#000"/>
<text transform="translate(323,943.4) scale(0.93,1)" font-family='"Liberation Sans", "Noto Sans CJK SC", sans-serif' font-size="10" fill="#000" stroke="#000" stroke-width=".12" text-anchor="start" >7 Jan 20:00</text>
<rect x="388" y="931" width="1" height="3" fill="#000"/>
<text transform="translate(387,943.4) scale(0.93,1)" font-family='"Liberation Sans", "Noto Sans CJK SC", sans-serif' font-size="10" fill="#000" stroke="#000" stroke-width=".12" text-anchor="start" >9 Jan 04:00</text>
<rect x="452" y="931" width="1" height="3" fill="#000"/>
<text transform="translate(451,943.4) scale(0.93,1)" font-family='"Liberation Sans", "Noto Sans CJK SC", sans-serif' font-size="10" fill="#000" stroke="#000" stroke-width=".12" text-anchor="start" >10 Jan 12:00</text>
<rect x="516" y="931" width="1" height="3" fill="#000"/>
<text transform="translate(515,943.4) scale(0.93,1)" font-family='"Liberation Sans", "Noto Sans CJK SC", sans-serif' font-size="10" fill="#000" stroke="#000" stroke-width=".12" text-anchor="start" >13 Jan 20:00</text>
<rect x="580" y="931" width="1" height="3" fill="#000"/>
<text transform="translate(579,943.4) scale(0.93,1)" font-family='"Liberation Sans", "Noto Sans CJK SC", sans-serif' font-size="10" fill="#000" stroke="#000" stroke-width=".12" text-anchor="start" >15 Jan 04:00</text>
<rect x="644" y="931" width="1" height="3" fill="#000"/>
<text transform="translate(643,943.4) scale(0.93,1)" font-family='"Liberation Sans", "Noto Sans CJK SC", sans-serif' font-size="10" fill="#000" stroke="#000" stroke-width=".12" text-anchor="start" >16 Jan 12:00</text>
<rect x="708" y="931" width="1" height="3" fill="#000"/>
<text transform="translate(707,943.4) scale(0.93,1)" font-family='"Liberation Sans", "Noto Sans CJK SC", sans-serif' font-size="10" fill="#000" stroke="#000" stroke-width=".12" text-anchor="start" >19 Jan 23:00</text>
<rect x="772" y="931" width="1" height="3" fill="#000"/>
<text transform="translate(771,943.4) scale(0.93,1)" font-family='"Liberation Sans", "Noto Sans CJK SC", sans-serif' font-size="10" fill="#000" stroke="#000" stroke-width=".12" text-anchor="start" >21 Jan 04:00</text>
<rect x="836" y="931" width="1" height="3" fill="#000"/>
<text transform="translate(835,943.4) scale(0.93,1)" font-family='"Liberation Sans", "Noto Sans CJK SC", sans-serif' font-size="10" fill="#000" stroke="#000" stroke-width=".12" text-anchor="start" >22 Jan 12:00</text>
<rect x="900" y="931" width="1" height="3" fill="#000"/>
<text transform="translate(899,943.4) scale(0.93,1)" font-family='"Liberation Sans", "Noto Sans CJK SC", sans-serif' font-size="10" fill="#000" stroke="#000" stroke-width=".12" text-anchor="start" >23 Jan 20:00</text>
<rect x="964" y="931" width="1" height="3" fill="#000"/>
<text transform="translate(963,943.4) scale(0.93,1)" font-family='"Liberation Sans", "Noto Sans CJK SC", sans-serif' font-size="10" fill="#000" stroke="#000" stroke-width=".12" text-anchor="start" >27 Jan 04:00</text>
<rect x="1028" y="931" width="1" height="3" fill="#000"/>
<text transform="translate(1027,943.4) scale(0.93,1)" font-family='"Liberation Sans", "Noto Sans CJK SC", sans-serif' font-size="10" fill="#000" stroke="#000" stroke-width=".12" text-anchor="start" >28 Jan 12:00</text>
<rect x="1092" y="931" width="1" height="3" fill="#000"/>
<text transform="translate(1091,943.4) scale(0.93,1)" font-family='"Liberation Sans", "Noto Sans CJK SC", sans-serif' font-size="10" fill="#000" stroke="#000" stroke-width=".12" text-anchor="start" >29 Jan 20:00</text>
<rect x="1156" y="931" width="1" height="3" fill="#000"/>
<text transform="translate(1155,943.4) scale(0.93,1)" font-family='"Liberation Sans", "Noto Sans CJK SC", sans-serif' font-size="10" fill="#000" stroke="#000" stroke-width=".12" text-anchor="start" >31 Jan 04:00</text>
<rect x="1220" y="931" width="1" height="3" fill="#000"/>
<text transform="translate(1219,943.4) scale(0.93,1)" font-family='"Liberation Sans", "Noto Sans CJK SC", sans-serif' font-size="10" fill="#000" stroke="#000" stroke-width=".12" text-anchor="start" >3 Feb 12:00</text>
<rect x="1284" y="931" width="1" height="3" fill="#000"/>
<text transform="translate(1283,943.4) scale(0.93,1)" font-family='"Liberation Sans", "Noto Sans CJK SC", sans-serif' font-size="10" fill="#000" stroke="#000" stroke-width=".12" text-anchor="start" >4 Feb 20:00</text>
<polygon points="6.8,40 14,40 10.4,36.2" fill="#000"/>
<text transform="translate(19.3,40.8) scale(0.932,1)" font-family='"Liberation Sans", "Noto Sans CJK SC", sans-serif' font-size="10" fill="#000" stroke="#000" stroke-width=".12" text-anchor="start" >USDJPY-,H4</text>
<text transform="translate(79.7,40.8) scale(0.925,1)" font-family='"Liberation Sans", "Noto Sans CJK SC", sans-serif' font-size="10" fill="#000" stroke="#000" stroke-width=".12" text-anchor="start" >109.491 109.536 109.442 109.511</text>
</svg>
<div id="pn">
<div class="pb" style="left:7px;top:49px;width:52px;height:24px;background-position:0 0"></div>
<div class="pb" style="left:7px;top:73px;width:109px;height:40px;background-position:0 -24px"></div>
<div class="pb" style="left:174px;top:49px;width:52px;height:24px;background-position:0 0"></div>
<div class="pb" style="left:118px;top:73px;width:108px;height:40px;background-position:0 -24px"></div>
<div style="position:absolute;left:11px;top:73px;width:44px;height:1px;background:#8c8cff"></div>
<div style="position:absolute;left:178px;top:73px;width:44px;height:1px;background:#8c8cff"></div>
<div id="lot"><div class="sp" style="left:0;border-right:1px solid #a8a8a8"></div><div class="sp" style="right:0;border-left:1px solid #a8a8a8"></div>
<svg width="109" height="20" style="position:absolute;left:0;top:0"><polygon points="7.5,8.5 13.5,8.5 10.5,12" fill="#4a68c0"/><polygon points="95.5,12 101.5,12 98.5,8.5" fill="#4a68c0"/></svg>
<div style="position:absolute;right:24px;top:4px;font-size:10.2px;line-height:12px;color:#1a1a1a;transform:scaleX(1.17);transform-origin:100% 0">1.00</div></div>
<div class="pt" id="tsell" style="left:19.4px;top:54.5px;font-size:12.5px;transform:scaleX(.865)">SELL</div>
<div class="pt" id="tbuy" style="left:187.2px;top:54.5px;font-size:12.5px;transform:scaleX(.92)">BUY</div>
<div class="pt" style="left:30.5px;top:94.2px;font-size:11.5px;font-weight:bold;transform:scaleX(1.05)">109</div>
<div class="pt" style="left:55px;top:74.5px;font-size:33px;transform:scaleX(.93)">51</div>
<div class="pt" style="left:94px;top:79.6px;font-size:10px;font-weight:bold;transform:scaleX(1.1)">1</div>
<div class="pt" style="left:140.6px;top:94.2px;font-size:11.5px;font-weight:bold;transform:scaleX(1.05)">109</div>
<div class="pt" style="left:166.4px;top:74.5px;font-size:33px;transform:scaleX(.93)">53</div>
<div class="pt" style="left:205.4px;top:79.6px;font-size:10px;font-weight:bold;transform:scaleX(1.1)">1</div>
</div>
<svg width="1670" height="25" viewBox="0 0 1670 25" style="position:absolute;left:0;top:0"><defs><linearGradient id="gold" x1="0" y1="0" x2="1" y2="1"><stop offset="0" stop-color="#fbe06a"/><stop offset=".5" stop-color="#e8b820"/><stop offset="1" stop-color="#b87c08"/></linearGradient><linearGradient id="grn" x1="0" y1="0" x2="1" y2="1"><stop offset="0" stop-color="#7aee7a"/><stop offset=".5" stop-color="#18c818"/><stop offset="1" stop-color="#008a00"/></linearGradient><linearGradient id="blu" x1="0" y1="0" x2="0" y2="1"><stop offset="0" stop-color="#3aa0ff"/><stop offset="1" stop-color="#0a58c8"/></linearGradient><radialGradient id="lens" cx=".4" cy=".35" r=".7"><stop offset="0" stop-color="#f4fbff"/><stop offset="1" stop-color="#bfe0f6"/></radialGradient><linearGradient id="cloud" x1="0" y1="0" x2="0" y2="1"><stop offset="0" stop-color="#ffffff"/><stop offset="1" stop-color="#b8c8e8"/></linearGradient><linearGradient id="bub" x1="0" y1="0" x2="0" y2="1"><stop offset="0" stop-color="#ffffff"/><stop offset="1" stop-color="#d8d8e4"/></linearGradient></defs>
<path d="M-3 6.5H2.6L5.8 9.5V16.5H-3Z" fill="#fff" stroke="#909090" stroke-width="1"/><path d="M2.6 6.5V9.5H5.8" fill="#e0e0e0" stroke="#909090" stroke-width=".8"/>
<path d="M2.4 12H6.2V15.2H9.8V19H6.2V22.6H2.4V19H-1V15.2H2.4Z" fill="url(#grn)" stroke="#0a7a0a" stroke-width=".9"/>
<text x="13" y="16.9" font-family='"Liberation Sans", "Noto Sans CJK SC", sans-serif' font-size="12" fill="#000">新订单</text>
<path d="M66.5 6L76.7 13.2V15.4L69.2 20.8L60.9 15.4L64.9 9.9Z" fill="url(#gold)" stroke="#a87008" stroke-width=".9" stroke-linejoin="round"/><path d="M76.7 13.2V15.4L69.2 20.8L60.9 15.4L69.2 18.6Z" fill="#b07c10"/><path d="M61.5 14.9L69.3 18.4L76.5 13.3" fill="none" stroke="#f8e89a" stroke-width=".8"/>
<path d="M91 6.5L96 5.2L102.3 6.5V14.5H91Z" fill="url(#blu)"/><path d="M91 6.5L94.5 8V15H91Z" fill="#1f7ef0"/><rect x="95.5" y="8.2" width="6" height="6" fill="#5ab4ff"/><rect x="97" y="9.6" width="4" height="1.2" fill="#e8f4ff"/>
<path d="M91.5 20.6C88.6 20.6 88.4 16.6 91.6 16.4C92 14.2 95.4 13.4 96.8 15.2C98.6 12.8 102.6 13.8 102.6 16.4C105.6 16.2 105.8 20.6 102.8 20.6Z" fill="url(#cloud)" stroke="#4a70b8" stroke-width=".9"/>
<circle cx="125.2" cy="12.8" r="7.7" fill="#e4ece6"/><path d="M125.2 12.8V20.5A7.7 7.7 0 0 0 125.2 5.1Z" fill="#a8cfa8" opacity=".75"/><path d="M125.2 12.8V20.5A7.7 7.7 0 0 0 132.4 15.4Z" fill="#4aa84a" opacity=".75"/><g fill="none" stroke="#3a64d0" stroke-width="1"><path d="M126.6 5.6A7.3 7.3 0 0 0 124 20" opacity=".8"/><path d="M126 8A4.9 4.9 0 0 0 124.4 17.6" opacity=".75"/><path d="M125.8 10.3A2.6 2.6 0 0 0 124.6 15.2" opacity=".7"/><path d="M127.5 6A7.3 7.3 0 0 1 132.4 12" opacity=".35"/><path d="M127 8.4A4.9 4.9 0 0 1 130 12" opacity=".3"/></g><circle cx="125.1" cy="12.3" r="1.7" fill="#1a48c4"/><rect x="124.8" y="12.8" width="1.5" height="7.9" fill="#18a018"/>
<path d="M144.8 11.2H159.6L152.6 20.4Z" fill="url(#gold)" stroke="#c89818" stroke-width=".6"/><ellipse cx="152" cy="9.6" rx="7.8" ry="2.6" fill="#4aa0dc" stroke="#2a78b8" stroke-width=".7"/><path d="M147.6 9C147.6 4.4 156.4 4.4 156.4 9C154 10.4 150 10.4 147.6 9Z" fill="#6ab8ec" stroke="#2a78b8" stroke-width=".6"/><circle cx="156.4" cy="16.8" r="4" fill="#e01808"/><rect x="155" y="15.4" width="2.9" height="2.9" fill="#fff"/>
<text x="165" y="16.9" font-family='"Liberation Sans", "Noto Sans CJK SC", sans-serif' font-size="12" fill="#000">自动交易</text>
<rect x="220" y="0" width="1" height="25" fill="#a0a0a0"/><rect x="221" y="0" width="1" height="25" fill="#fff"/>
<rect x="224" y="3" width="3" height="1" fill="#a0a0a0"/>
<rect x="224" y="5" width="3" height="1" fill="#a0a0a0"/>
<rect x="224" y="7" width="3" height="1" fill="#a0a0a0"/>
<rect x="224" y="9" width="3" height="1" fill="#a0a0a0"/>
<rect x="224" y="11" width="3" height="1" fill="#a0a0a0"/>
<rect x="224" y="13" width="3" height="1" fill="#a0a0a0"/>
<rect x="224" y="15" width="3" height="1" fill="#a0a0a0"/>
<rect x="224" y="17" width="3" height="1" fill="#a0a0a0"/>
<rect x="224" y="19" width="3" height="1" fill="#a0a0a0"/>
<rect x="224" y="21" width="3" height="1" fill="#a0a0a0"/>
<g stroke="#505050" stroke-width="1.3" fill="none"><path d="M238.4 7.3V20.8M235.8 18.6H248.9"/></g><path d="M236.4 9.2L238.4 6.6L240.4 9.2ZM247.6 16.6L250.20000000000002 18.6L247.6 20.6Z" fill="#505050"/>
<path d="M244.5 8.2V16.5M241.8 15.5H244.5M244.5 9.5H247.2" stroke="#008000" stroke-width="1.3" fill="none"/>
<rect x="258" y="1" width="25" height="22" fill="#f9f9f9"/><rect x="258" y="1" width="25" height="1" fill="#a0a0a0"/><rect x="258" y="1" width="1" height="22" fill="#a0a0a0"/><rect x="258" y="22" width="25" height="1" fill="#fff"/><rect x="282" y="1" width="1" height="22" fill="#fff"/>
<g stroke="#505050" stroke-width="1.3" fill="none"><path d="M266.4 7.3V20.8M263.79999999999995 18.6H276.9"/></g><path d="M264.4 9.2L266.4 6.6L268.4 9.2ZM275.59999999999997 16.6L278.2 18.6L275.59999999999997 20.6Z" fill="#505050"/>
<path d="M272.5 5.3V17" stroke="#008000" stroke-width="1.2"/><rect x="270.3" y="7.6" width="4.4" height="7.2" fill="#5ae05a" stroke="#00a000" stroke-width="1"/>
<g stroke="#505050" stroke-width="1.3" fill="none"><path d="M294.4 7.3V20.8M291.79999999999995 18.6H304.9"/></g><path d="M292.4 9.2L294.4 6.6L296.4 9.2ZM303.59999999999997 16.6L306.2 18.6L303.59999999999997 20.6Z" fill="#505050"/>
<path d="M293.2 15.8C296 13.5 297.5 9.9 299.2 9.9C301 9.9 302.5 13.2 304.8 14.2" stroke="#109010" stroke-width="1.2" fill="none"/>
<rect x="315" y="2" width="1" height="21" fill="#a0a0a0"/>
<path d="M333.40000000000003 15.2L338.40000000000003 20.2" stroke="#a87808" stroke-width="3.2" stroke-linecap="round"/><path d="M333.6 15.4L338.2 20" stroke="#f4d868" stroke-width="1.6" stroke-linecap="round"/>
<circle cx="329.8" cy="11" r="5.3" fill="url(#lens)" stroke="#3a88d0" stroke-width="1.3"/>
<path d="M326.8 11H332.8" stroke="#3a7ab0" stroke-width="1.6"/>
<path d="M329.8 8V14" stroke="#3a7ab0" stroke-width="1.6"/>
<path d="M361.8 15.2L366.8 20.2" stroke="#a87808" stroke-width="3.2" stroke-linecap="round"/><path d="M362.0 15.4L366.59999999999997 20" stroke="#f4d868" stroke-width="1.6" stroke-linecap="round"/>
<circle cx="358.2" cy="11" r="5.3" fill="url(#lens)" stroke="#3a88d0" stroke-width="1.3"/>
<path d="M355.2 11H361.2" stroke="#3a7ab0" stroke-width="1.6"/>
<rect x="380.2" y="5.3" width="7.7" height="7.6" fill="#4ab020"/><rect x="380.2" y="11.1" width="7.7" height="1.8" fill="#2a9010"/><path d="M381.2 12.3V8.1H386.9V12.3H385.8V11.3H382.3V12.3Z" fill="#fff"/><rect x="382.4" y="9.3" width="3.4" height=".9" fill="#4ab020" opacity=".55"/><rect x="381.09999999999997" y="6.3" width="1" height="1" fill="#fff" opacity=".8"/>
<rect x="388.3" y="5.3" width="7.7" height="7.6" fill="#3a6ae0"/><rect x="388.3" y="11.1" width="7.7" height="1.8" fill="#1038b8"/><path d="M389.3 12.3V8.1H395.0V12.3H393.90000000000003V11.3H390.40000000000003V12.3Z" fill="#fff"/><rect x="390.5" y="9.3" width="3.4" height=".9" fill="#3a6ae0" opacity=".55"/><rect x="389.2" y="6.3" width="1" height="1" fill="#fff" opacity=".8"/>
<rect x="380.2" y="13.2" width="7.7" height="7.6" fill="#3a6ae0"/><rect x="380.2" y="19.0" width="7.7" height="1.8" fill="#1038b8"/><path d="M381.2 20.2V16.0H386.9V20.2H385.8V19.2H382.3V20.2Z" fill="#fff"/><rect x="382.4" y="17.2" width="3.4" height=".9" fill="#3a6ae0" opacity=".55"/><rect x="381.09999999999997" y="14.2" width="1" height="1" fill="#fff" opacity=".8"/>
<rect x="388.3" y="13.2" width="7.7" height="7.6" fill="#4ab020"/><rect x="388.3" y="19.0" width="7.7" height="1.8" fill="#2a9010"/><path d="M389.3 20.2V16.0H395.0V20.2H393.90000000000003V19.2H390.40000000000003V20.2Z" fill="#fff"/><rect x="390.5" y="17.2" width="3.4" height=".9" fill="#4ab020" opacity=".55"/><rect x="389.2" y="14.2" width="1" height="1" fill="#fff" opacity=".8"/>
<rect x="405" y="2" width="1" height="21" fill="#a0a0a0"/>
<rect x="410" y="1" width="25" height="22" fill="#f9f9f9"/><rect x="410" y="1" width="25" height="1" fill="#a0a0a0"/><rect x="410" y="1" width="1" height="22" fill="#a0a0a0"/><rect x="410" y="22" width="25" height="1" fill="#fff"/><rect x="434" y="1" width="1" height="22" fill="#fff"/>
<g stroke="#505050" stroke-width="1.3" fill="none"><path d="M418.5 7.3V20.8M415.9 18.6H429.0"/></g><path d="M416.5 9.2L418.5 6.6L420.5 9.2ZM427.7 16.6L430.3 18.6L427.7 20.6Z" fill="#505050"/>
<path d="M423 9.2V15.8L427 12.5Z" fill="#7be07b" stroke="#10a010" stroke-width="1.1" stroke-linejoin="round"/>
<rect x="438" y="1" width="25" height="22" fill="#f9f9f9"/><rect x="438" y="1" width="25" height="1" fill="#a0a0a0"/><rect x="438" y="1" width="1" height="22" fill="#a0a0a0"/><rect x="438" y="22" width="25" height="1" fill="#fff"/><rect x="462" y="1" width="1" height="22" fill="#fff"/>
<g stroke="#505050" stroke-width="1.3" fill="none"><path d="M446.4 7.3V20.8M443.79999999999995 18.6H456.9"/></g><path d="M444.4 9.2L446.4 6.6L448.4 9.2ZM455.59999999999997 16.6L458.2 18.6L455.59999999999997 20.6Z" fill="#505050"/>
<path d="M452.4 6.9V16.5" stroke="#1a6fb0" stroke-width="1.3"/><path d="M458.2 12.5H454M456 10.3L453.6 12.5L456 14.7" stroke="#d83800" stroke-width="1.2" fill="none"/>
<rect x="467" y="2" width="1" height="21" fill="#a0a0a0"/>
<path d="M477.6 5.8H485L488.3 8.8V18.8H477.6Z" fill="#fff" stroke="#8c8c8c" stroke-width="1"/><path d="M485 5.8V8.8H488.3" fill="#e8e8e8" stroke="#8c8c8c" stroke-width=".8"/><path d="M481.6 8.6C480 8.6 480.6 11 479.6 11.3C480.6 11.6 480 14.4 481.6 14.4" stroke="#4a4020" stroke-width=".8" fill="none"/>
<path d="M485.1 11.3H489V15.1H492.9V18.9H489V22.7H485.1V18.9H481.2V15.1H485.1Z" fill="url(#grn)" stroke="#0a7a0a" stroke-width=".9"/>
<polygon points="498.4,11.8 504.4,11.8 501.4,15.3" fill="#000"/>
<circle cx="523" cy="12.8" r="6.6" fill="#fff" stroke="url(#blu)" stroke-width="2.8"/><circle cx="523" cy="12.8" r="7.9" fill="none" stroke="#0a48a8" stroke-width=".6"/><circle cx="523" cy="12.8" r="5.1" fill="none" stroke="#c8d4e4" stroke-width=".8" stroke-dasharray=".7 1.97"/><path d="M522.4 9.4V13.6H525.6" stroke="#282828" stroke-width="1" fill="none"/><circle cx="523" cy="16.2" r=".6" fill="#60a8f0"/>
<polygon points="537.5,11.8 543.5,11.8 540.5,15.3" fill="#000"/>
<rect x="554.5" y="6.3" width="15.2" height="13.2" fill="#fff" stroke="#3a78c8" stroke-width="1"/><rect x="554.5" y="6.3" width="15.2" height="2.4" fill="#5a98e0"/><rect x="555" y="14" width="14.2" height=".8" fill="#6a98d8"/><path d="M556.6 12.4L558.6 12.3L560 11.3L562 10.4L563.6 11.6L565.6 11.4L567.6 10.4" stroke="#a02808" stroke-width="1.1" fill="none"/><path d="M557 17.6L559 17.2L560.6 17.6L562.6 16.6L564.4 15.2L566 16.2L567.6 17.6" stroke="#108818" stroke-width="1.1" fill="none"/>
<polygon points="576.5,11.8 582.5,11.8 579.5,15.3" fill="#000"/>
<rect x="588" y="0" width="1" height="25" fill="#a0a0a0"/><rect x="589" y="0" width="1" height="25" fill="#fff"/>
<rect x="592" y="3" width="3" height="1" fill="#a0a0a0"/>
<rect x="592" y="5" width="3" height="1" fill="#a0a0a0"/>
<rect x="592" y="7" width="3" height="1" fill="#a0a0a0"/>
<rect x="592" y="9" width="3" height="1" fill="#a0a0a0"/>
<rect x="592" y="11" width="3" height="1" fill="#a0a0a0"/>
<rect x="592" y="13" width="3" height="1" fill="#a0a0a0"/>
<rect x="592" y="15" width="3" height="1" fill="#a0a0a0"/>
<rect x="592" y="17" width="3" height="1" fill="#a0a0a0"/>
<rect x="592" y="19" width="3" height="1" fill="#a0a0a0"/>
<rect x="592" y="21" width="3" height="1" fill="#a0a0a0"/>
<rect x="598" y="1" width="25" height="22" fill="#f9f9f9"/><rect x="598" y="1" width="25" height="1" fill="#a0a0a0"/><rect x="598" y="1" width="1" height="22" fill="#a0a0a0"/><rect x="598" y="22" width="25" height="1" fill="#fff"/><rect x="622" y="1" width="1" height="22" fill="#fff"/>
<path d="M606 5.8V18L608.9 15.4L611 20.2L613 19.3L610.9 14.6L614.4 14.2Z" fill="#505050"/>
<path d="M638.5 6.5V20M631 13.3H646" stroke="#505050" stroke-width="1.1"/><rect x="638" y="12.8" width="1" height="1" fill="#f0f0f0"/>
<rect x="655" y="2" width="1" height="21" fill="#a0a0a0"/>
<path d="M672.3 7V20" stroke="#505050" stroke-width="1.2"/>
<path d="M694.7 13.3H707.2" stroke="#505050" stroke-width="1.2"/>
<path d="M722.6 20L735 7.6" stroke="#505050" stroke-width="1.2"/>
<g stroke="#505050" stroke-width="1" fill="none"><path d="M749 14.8L762.5 6.7M750.5 19.6L763 11.5"/><path d="M751.2 19.6L753.6 11.6M754.2 17.8L756.6 9.8M757.2 16L759.6 8M760.2 14.2L762.4 6.4" stroke-width=".9"/></g>
<text x="759.6" y="21.6" font-family='"Liberation Sans", "Noto Sans CJK SC", sans-serif' font-size="7" font-weight="bold" fill="#404040">E</text>
<path d="M777.8 6.5H791" stroke="#505050" stroke-width="1" stroke-dasharray="1 1"/>
<path d="M777.8 9.4H791" stroke="#505050" stroke-width="1" stroke-dasharray="1 1"/>
<path d="M777.8 13.4H791" stroke="#505050" stroke-width="1" stroke-dasharray="1 1"/>
<path d="M777.8 17.4H787" stroke="#505050" stroke-width="1" stroke-dasharray="1 1"/>
<text x="787.6" y="21.6" font-family='"Liberation Sans", "Noto Sans CJK SC", sans-serif' font-size="7" font-weight="bold" fill="#404040">F</text>
<text x="812.8" y="17.7" font-family='"Liberation Sans", "Noto Sans CJK SC", sans-serif' font-size="12" font-weight="bold" fill="#505050" text-anchor="middle" textLength="8.4" lengthAdjust="spacingAndGlyphs">A</text>
<rect x="835.3" y="7.3" width="11" height="12.2" fill="none" stroke="#505050" stroke-width="1" stroke-dasharray="1 1"/><rect x="834.3" y="6.3" width="2" height="1.4" fill="#505050"/>
<text x="840.8" y="18" font-family='"Liberation Sans", "Noto Sans CJK SC", sans-serif' font-size="11" font-weight="bold" fill="#505050" text-anchor="middle">T</text>
<path d="M862.3 9.6L865.6 6.4L868.9 9.6L865.6 11Z" fill="#505050"/><path d="M869.2 16.8L872.6 15.2L876 16.8L872.6 20Z" fill="#505050"/><path d="M864.6 14.2L866.8 16.4L871.6 10.6" stroke="#505050" stroke-width="1.4" fill="none"/>
<polygon points="882.4,11.8 888.4,11.8 885.4,15.3" fill="#000"/>
<rect x="894" y="0" width="1" height="25" fill="#a0a0a0"/><rect x="895" y="0" width="1" height="25" fill="#fff"/>
<rect x="898" y="3" width="3" height="1" fill="#a0a0a0"/>
<rect x="898" y="5" width="3" height="1" fill="#a0a0a0"/>
<rect x="898" y="7" width="3" height="1" fill="#a0a0a0"/>
<rect x="898" y="9" width="3" height="1" fill="#a0a0a0"/>
<rect x="898" y="11" width="3" height="1" fill="#a0a0a0"/>
<rect x="898" y="13" width="3" height="1" fill="#a0a0a0"/>
<rect x="898" y="15" width="3" height="1" fill="#a0a0a0"/>
<rect x="898" y="17" width="3" height="1" fill="#a0a0a0"/>
<rect x="898" y="19" width="3" height="1" fill="#a0a0a0"/>
<rect x="898" y="21" width="3" height="1" fill="#a0a0a0"/>
<rect x="1044" y="1" width="25" height="22" fill="#f9f9f9"/><rect x="1044" y="1" width="25" height="1" fill="#a0a0a0"/><rect x="1044" y="1" width="1" height="22" fill="#a0a0a0"/><rect x="1044" y="22" width="25" height="1" fill="#fff"/><rect x="1068" y="1" width="1" height="22" fill="#fff"/>
<text x="915.8" y="16.9" font-family='"Liberation Sans", "Noto Sans CJK SC", sans-serif' font-size="10" fill="#303030" text-anchor="middle" transform="translate(915.8,0) scale(.93,1) translate(-915.8,0)">M1</text>
<text x="944.2" y="16.9" font-family='"Liberation Sans", "Noto Sans CJK SC", sans-serif' font-size="10" fill="#303030" text-anchor="middle" transform="translate(944.2,0) scale(.93,1) translate(-944.2,0)">M5</text>
<text x="972.5" y="16.9" font-family='"Liberation Sans", "Noto Sans CJK SC", sans-serif' font-size="10" fill="#303030" text-anchor="middle" transform="translate(972.5,0) scale(.93,1) translate(-972.5,0)">M15</text>
<text x="1000.5" y="16.9" font-family='"Liberation Sans", "Noto Sans CJK SC", sans-serif' font-size="10" fill="#303030" text-anchor="middle" transform="translate(1000.5,0) scale(.93,1) translate(-1000.5,0)">M30</text>
<text x="1028.5" y="16.9" font-family='"Liberation Sans", "Noto Sans CJK SC", sans-serif' font-size="10" fill="#303030" text-anchor="middle" transform="translate(1028.5,0) scale(.93,1) translate(-1028.5,0)">H1</text>
<text x="1055.7" y="16.9" font-family='"Liberation Sans", "Noto Sans CJK SC", sans-serif' font-size="10" fill="#303030" text-anchor="middle" transform="translate(1055.7,0) scale(.93,1) translate(-1055.7,0)">H4</text>
<text x="1084.5" y="16.9" font-family='"Liberation Sans", "Noto Sans CJK SC", sans-serif' font-size="10" fill="#303030" text-anchor="middle" transform="translate(1084.5,0) scale(.93,1) translate(-1084.5,0)">D1</text>
<text x="1113.2" y="16.9" font-family='"Liberation Sans", "Noto Sans CJK SC", sans-serif' font-size="10" fill="#303030" text-anchor="middle" transform="translate(1113.2,0) scale(.93,1) translate(-1113.2,0)">W1</text>
<text x="1140.2" y="16.9" font-family='"Liberation Sans", "Noto Sans CJK SC", sans-serif' font-size="10" fill="#303030" text-anchor="middle" transform="translate(1140.2,0) scale(.93,1) translate(-1140.2,0)">MN</text>
<rect x="1155" y="2" width="1" height="21" fill="#a0a0a0"/>
<path d="M1622.6 13.4L1618.2 17.6" stroke="#2458d0" stroke-width="2.6" stroke-linecap="round"/><circle cx="1625.6" cy="10.3" r="3.8" fill="#f6f8ff" stroke="#2a62e0" stroke-width="1.3"/>
<path d="M1659.8 14.4L1661.6 16.8L1662 14Z" fill="#707070"/><ellipse cx="1658" cy="10" rx="6.6" ry="4.6" fill="url(#bub)" stroke="#8a8a8a" stroke-width=".9"/><path d="M1646.2 17.6L1646 19.8L1648.4 18.4Z" fill="#707070"/><ellipse cx="1649.2" cy="14.6" rx="5" ry="4" fill="url(#bub)" stroke="#8a8a8a" stroke-width=".9"/></svg>
</body></html>
